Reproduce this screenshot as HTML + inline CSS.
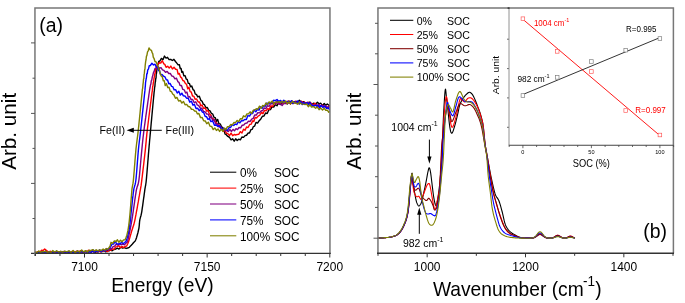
<!DOCTYPE html><html><head><meta charset="utf-8"><style>html,body{margin:0;padding:0;background:#fff;overflow:hidden;}svg{display:block;will-change:transform;}text{font-family:"Liberation Sans",sans-serif;}</style></head><body>
<svg width="685" height="303" viewBox="0 0 685 303">
<rect width="685" height="303" fill="#fff"/>
<defs><clipPath id="cl"><rect x="35" y="8" width="295" height="245.5"/></clipPath><clipPath id="cr"><rect x="378" y="8" width="295" height="245.3"/></clipPath></defs>
<g clip-path="url(#cl)" fill="none" stroke-width="1.4" stroke-linejoin="round">
<path d="M35.00,252.40 L36.96,253.32 L38.94,251.85 L40.45,253.58 L42.07,252.25 L43.78,253.57 L45.55,251.11 L47.34,252.79 L49.12,251.81 L50.89,252.30 L52.73,252.32 L54.65,252.98 L56.63,251.18 L58.66,252.78 L60.72,252.50 L62.80,252.41 L64.88,251.49 L66.95,253.01 L68.99,251.71 L71.01,252.83 L73.10,251.70 L75.23,252.91 L77.40,251.29 L79.56,251.87 L81.68,251.55 L83.74,252.06 L85.70,251.15 L87.54,252.59 L89.23,251.19 L91.41,252.02 L93.20,250.06 L94.72,252.58 L96.48,251.50 L98.16,251.86 L100.00,250.73 L101.99,251.66 L103.96,250.71 L105.94,251.95 L107.44,249.81 L108.96,251.00 L110.53,249.89 L112.18,250.80 L113.90,249.48 L115.64,249.00 L117.34,248.19 L118.96,249.06 L120.90,247.21 L122.58,248.12 L124.43,247.66 L126.08,248.43 L127.60,248.01 L129.32,247.33 L130.84,245.64 L132.19,244.31 L133.68,242.56 L135.09,241.12 L135.95,239.19 L136.60,237.41 L137.26,234.98 L137.90,232.76 L138.46,230.25 L138.89,228.29 L139.22,225.85 L139.40,223.93 L139.57,221.51 L139.87,219.71 L140.44,217.32 L141.01,215.44 L141.46,213.35 L141.83,211.36 L142.27,208.20 L142.59,206.05 L142.93,203.55 L143.27,201.22 L143.62,198.51 L143.95,196.29 L144.26,193.81 L144.55,191.83 L144.91,189.15 L145.26,187.23 L145.70,184.77 L146.04,182.49 L146.30,179.97 L146.51,177.88 L146.75,175.05 L147.00,172.23 L147.26,168.88 L147.53,165.72 L147.80,162.13 L148.07,159.09 L148.33,155.60 L148.57,152.76 L148.80,149.86 L149.00,147.80 L149.18,145.48 L149.42,143.05 L149.64,140.29 L149.88,137.95 L150.15,134.82 L150.36,132.61 L150.60,129.94 L150.88,126.98 L151.20,123.25 L151.56,119.60 L151.74,117.49 L151.93,115.53 L152.12,113.36 L152.31,111.44 L152.50,109.22 L152.69,107.36 L152.87,105.24 L153.23,101.47 L153.57,97.92 L153.87,94.85 L154.12,92.15 L154.35,90.64 L154.64,87.29 L154.89,86.36 L155.18,82.65 L155.47,81.48 L155.78,78.24 L156.02,78.10 L156.26,74.03 L156.50,73.34 L156.82,70.13 L157.14,68.47 L157.55,65.44 L158.06,64.20 L158.75,61.43 L159.82,61.02 L161.42,58.39 L162.98,59.67 L164.48,56.08 L166.01,58.06 L167.48,57.33 L169.10,59.63 L170.71,59.32 L172.33,60.46 L173.94,59.35 L175.44,61.48 L176.60,62.92 L178.11,64.84 L179.37,64.61 L180.22,68.66 L181.08,68.39 L181.84,72.40 L182.70,71.55 L183.87,75.87 L185.13,75.64 L186.19,79.04 L187.22,79.43 L188.26,83.37 L189.42,83.42 L190.60,86.80 L191.75,85.99 L192.99,89.58 L194.15,90.34 L195.27,94.11 L196.42,94.33 L197.77,96.95 L199.32,96.23 L200.90,100.40 L202.09,101.32 L203.30,104.14 L204.50,104.71 L205.90,107.72 L207.31,107.47 L208.70,110.33 L210.07,110.92 L211.43,113.47 L212.80,114.18 L214.03,117.32 L215.29,117.73 L216.45,121.31 L217.66,119.42 L218.90,123.68 L220.26,123.92 L221.57,126.82 L222.84,127.65 L223.85,130.02 L224.36,130.45 L225.00,134.01 L226.25,134.73 L227.85,136.45 L229.45,137.25 L231.05,139.84 L232.70,138.84 L234.20,141.21 L235.70,138.82 L237.20,140.55 L238.71,139.22 L240.34,139.85 L241.93,137.02 L243.54,137.40 L245.05,135.60 L246.55,135.24 L248.06,133.06 L249.50,133.09 L250.89,129.68 L252.24,129.32 L253.40,126.54 L254.66,126.10 L256.04,122.38 L257.57,123.05 L259.20,120.66 L260.83,118.92 L262.43,116.24 L264.01,115.94 L265.61,113.01 L267.21,113.56 L268.86,109.82 L270.47,109.63 L272.15,106.69 L273.73,106.98 L275.40,104.60 L277.04,105.78 L278.65,102.56 L280.38,104.48 L282.26,101.93 L283.87,102.80 L285.56,101.95 L287.28,104.04 L288.95,100.88 L290.50,103.65 L292.41,101.22 L294.25,102.48 L296.15,101.29 L297.69,102.50 L299.39,100.28 L301.32,102.33 L303.52,101.65 L305.08,102.85 L306.69,102.82 L308.31,103.86 L309.92,102.04 L311.48,104.37 L313.68,103.23 L315.62,104.29 L317.40,102.24 L319.07,103.81 L320.62,103.13 L322.52,105.40 L324.23,103.56 L325.73,105.16 L327.32,103.98 L328.82,105.32 L330.00,105.50" stroke="#000000"/>
<path d="M35.00,252.40 L36.74,252.38 L38.49,251.48 L40.00,252.10 L41.62,250.18 L43.15,250.61 L44.68,249.07 L46.27,250.30 L47.84,251.52 L48.78,253.55 L50.58,251.27 L52.82,252.92 L54.64,251.84 L56.67,253.05 L58.84,251.78 L61.11,252.70 L63.42,251.41 L65.70,253.59 L67.92,251.43 L70.00,253.27 L72.05,251.44 L74.16,252.65 L76.31,251.29 L78.48,252.10 L80.62,250.65 L82.72,252.10 L84.73,251.42 L86.64,252.17 L88.41,250.32 L90.00,251.89 L92.06,250.63 L93.80,252.13 L95.75,251.04 L97.46,252.05 L99.13,250.88 L100.90,252.08 L102.67,250.47 L104.38,251.00 L105.96,250.54 L107.69,251.68 L109.26,249.77 L110.85,250.27 L112.46,248.91 L113.98,249.50 L115.54,246.88 L117.22,246.60 L118.87,245.62 L120.41,247.73 L122.00,246.41 L123.61,247.56 L125.23,246.33 L126.68,245.97 L127.73,243.75 L128.44,242.02 L129.23,239.49 L129.84,237.53 L130.46,235.28 L131.06,233.28 L131.62,231.18 L132.29,229.18 L132.99,226.97 L133.68,225.09 L134.32,222.59 L134.90,220.09 L135.36,217.57 L135.90,214.92 L136.47,211.72 L137.08,208.52 L137.70,204.88 L138.31,201.64 L138.89,197.98 L139.43,195.18 L139.91,192.18 L140.30,190.04 L140.72,187.60 L141.08,185.70 L141.38,183.39 L141.68,181.07 L141.93,178.82 L142.23,176.61 L142.57,173.67 L142.94,170.68 L143.32,167.21 L143.72,163.99 L144.11,160.38 L144.48,157.43 L144.84,154.09 L145.16,151.41 L145.43,148.72 L145.66,146.61 L145.93,143.59 L146.16,141.33 L146.38,138.61 L146.65,136.06 L146.87,133.63 L147.14,131.45 L147.48,128.41 L147.88,125.25 L148.34,121.34 L148.59,119.52 L148.85,117.27 L149.11,115.33 L149.38,113.10 L149.64,111.17 L149.91,108.86 L150.17,107.05 L150.43,104.82 L150.92,101.19 L151.36,97.50 L151.74,94.79 L152.04,92.27 L152.36,90.56 L152.64,86.52 L152.92,86.13 L153.28,82.96 L153.60,81.74 L153.94,78.97 L154.30,76.93 L154.73,73.90 L155.14,73.37 L155.62,69.24 L156.18,68.57 L156.82,65.81 L157.81,64.54 L159.20,62.78 L160.74,63.08 L162.28,60.71 L163.84,63.90 L164.80,64.38 L166.08,67.32 L167.67,66.22 L169.24,68.08 L170.80,66.08 L172.42,69.00 L174.02,67.29 L175.58,69.25 L177.04,69.42 L178.13,73.98 L179.33,73.50 L180.49,76.89 L181.65,77.85 L182.84,80.49 L184.00,80.90 L185.31,83.32 L186.58,84.43 L187.73,88.76 L188.96,87.24 L190.09,91.66 L191.24,92.01 L192.60,96.16 L193.86,96.16 L195.10,99.29 L196.55,98.93 L198.17,102.04 L199.54,101.95 L200.89,105.91 L202.10,105.09 L203.50,108.26 L205.10,107.98 L206.70,111.17 L208.07,110.66 L209.43,114.00 L210.80,115.14 L212.23,118.49 L213.67,118.92 L214.97,121.34 L216.36,122.67 L217.65,125.94 L218.94,124.64 L220.28,127.60 L221.79,128.85 L223.35,131.40 L225.00,130.17 L226.44,133.27 L227.85,133.63 L229.45,135.57 L231.05,133.14 L232.70,135.73 L234.20,134.49 L235.70,134.99 L237.20,134.46 L238.71,134.41 L240.34,131.67 L241.93,132.94 L243.54,129.16 L245.05,130.26 L246.55,127.01 L248.06,127.54 L249.64,124.49 L251.20,124.17 L252.61,120.89 L253.81,121.58 L255.11,117.42 L256.53,117.94 L258.10,116.14 L259.75,115.24 L261.37,112.57 L262.96,113.66 L264.55,110.42 L266.13,110.71 L267.72,108.57 L269.31,109.36 L270.90,105.75 L272.47,106.70 L274.18,103.18 L275.77,103.79 L277.33,101.23 L278.98,104.00 L280.77,101.06 L282.44,103.26 L284.44,101.37 L286.22,103.44 L288.26,101.21 L290.50,103.96 L292.06,101.27 L293.66,103.42 L295.28,101.22 L296.89,103.49 L298.47,102.17 L300.00,103.17 L301.52,101.23 L303.08,102.62 L304.66,102.12 L306.24,103.86 L307.81,102.33 L309.36,104.08 L310.87,102.90 L313.02,104.95 L315.00,103.17 L316.82,105.47 L318.52,105.04 L320.12,106.93 L322.07,104.98 L323.82,106.32 L325.37,105.85 L327.02,107.90 L328.60,106.33 L330.00,107.00" stroke="#ff0000"/>
<path d="M35.00,252.40 L36.96,252.78 L38.94,252.01 L40.45,252.81 L42.07,252.55 L43.78,252.58 L45.55,251.30 L47.34,253.33 L49.12,251.39 L50.89,253.42 L52.73,251.94 L54.65,252.81 L56.63,251.57 L58.66,252.39 L60.72,251.34 L62.80,253.42 L64.88,251.79 L66.95,252.99 L68.99,252.00 L71.01,252.85 L73.10,251.67 L75.23,253.09 L77.40,251.14 L79.56,252.48 L81.68,251.50 L83.74,252.83 L85.70,251.30 L87.54,253.03 L89.23,250.60 L90.73,252.89 L92.67,250.54 L94.32,252.02 L96.19,250.45 L97.88,251.27 L99.56,250.47 L101.35,251.26 L103.11,249.78 L104.78,250.87 L106.33,248.61 L108.00,249.87 L109.66,247.91 L111.20,249.29 L112.92,246.78 L114.63,246.14 L116.19,244.23 L117.86,245.01 L119.42,243.54 L121.01,244.76 L122.74,243.99 L124.38,244.82 L125.94,243.18 L127.17,242.25 L127.82,240.15 L128.43,237.92 L128.86,235.72 L129.26,233.75 L129.78,231.03 L130.25,228.97 L130.69,226.71 L131.08,224.69 L131.46,222.43 L131.81,220.61 L132.21,218.00 L132.53,216.15 L132.86,213.65 L133.19,211.56 L133.52,209.16 L133.91,206.56 L134.21,204.34 L134.52,202.31 L134.84,199.93 L135.16,197.83 L135.49,195.51 L135.81,193.55 L136.26,190.64 L136.67,188.72 L137.30,186.41 L138.02,184.62 L138.51,182.35 L138.90,180.10 L139.18,177.72 L139.47,175.25 L139.76,172.07 L140.06,169.01 L140.37,165.54 L140.67,162.26 L140.97,158.79 L141.26,155.79 L141.54,152.63 L141.80,150.10 L142.04,147.60 L142.24,145.69 L142.51,142.74 L142.76,140.47 L143.04,137.74 L143.39,135.02 L143.67,132.45 L144.00,130.15 L144.41,126.79 L144.89,123.35 L145.43,119.31 L145.71,117.43 L146.00,115.10 L146.29,113.33 L146.59,110.97 L146.88,109.12 L147.17,106.93 L147.46,104.92 L148.00,100.98 L148.50,97.76 L148.92,94.61 L149.26,92.51 L149.64,89.57 L149.99,88.01 L150.43,85.31 L150.87,84.04 L151.29,80.91 L151.81,79.90 L152.32,76.92 L152.80,75.34 L153.36,72.88 L154.00,71.66 L155.11,68.31 L156.38,67.78 L157.88,66.43 L159.45,68.23 L161.02,67.68 L162.45,69.78 L163.93,70.44 L165.55,72.28 L167.16,71.36 L168.72,73.49 L170.31,73.33 L171.80,76.00 L173.38,76.45 L174.93,78.88 L176.47,78.16 L177.80,81.56 L178.95,82.30 L180.10,85.64 L181.46,85.53 L182.81,89.40 L184.23,89.82 L185.60,93.02 L186.93,92.10 L188.27,97.08 L189.57,96.53 L191.03,99.39 L192.61,99.49 L194.25,102.75 L195.81,101.78 L197.21,104.93 L198.72,105.56 L200.29,108.20 L201.90,108.21 L203.49,111.32 L205.10,111.93 L206.70,113.95 L208.31,114.16 L209.90,118.02 L211.31,116.30 L212.70,120.73 L214.13,119.50 L215.71,124.11 L217.34,123.62 L218.93,126.91 L220.39,126.23 L222.08,129.01 L223.61,128.19 L225.18,130.93 L226.72,130.35 L228.29,131.58 L229.88,129.51 L231.49,131.45 L233.00,129.38 L234.50,130.80 L236.00,128.62 L237.50,129.55 L239.01,127.48 L240.64,127.90 L242.23,125.19 L243.74,124.96 L245.35,123.37 L246.97,122.96 L248.48,121.10 L250.07,121.51 L251.70,119.16 L253.20,118.48 L254.66,115.04 L256.28,115.05 L257.83,112.62 L259.47,112.84 L261.10,110.97 L262.69,110.51 L264.28,107.98 L265.87,108.58 L267.46,105.60 L269.05,106.29 L270.64,103.47 L272.24,103.87 L273.95,102.55 L275.61,103.95 L277.18,100.75 L278.62,103.97 L280.33,103.79 L282.16,105.47 L283.77,103.35 L285.49,103.64 L287.25,101.28 L288.94,103.23 L290.50,101.77 L292.41,103.45 L294.25,101.93 L296.15,102.98 L297.69,101.97 L299.39,103.77 L301.32,101.37 L303.52,103.67 L305.08,103.33 L306.69,104.46 L308.31,102.25 L309.92,105.56 L311.48,104.02 L313.68,106.13 L315.62,104.86 L317.40,106.99 L319.07,104.32 L320.62,106.47 L322.52,105.15 L324.23,106.94 L325.73,105.77 L327.32,107.89 L328.82,106.16 L330.00,108.00" stroke="#800080"/>
<path d="M35.00,252.40 L36.96,253.80 L38.94,251.92 L40.45,253.53 L42.07,251.49 L43.78,253.21 L45.55,251.47 L47.34,252.87 L49.12,251.96 L50.89,253.48 L52.73,251.66 L54.65,252.16 L56.63,251.65 L58.66,253.13 L60.72,251.74 L62.80,252.28 L64.88,251.57 L66.95,253.25 L68.99,251.20 L71.01,253.40 L73.10,251.61 L75.23,253.17 L77.40,251.93 L79.56,252.76 L81.68,251.20 L83.74,252.42 L85.70,251.49 L87.54,252.55 L89.23,251.46 L90.73,252.54 L92.67,251.15 L94.32,252.24 L96.19,250.87 L97.88,251.76 L99.56,249.86 L101.36,251.71 L103.15,249.72 L104.85,250.98 L106.40,249.35 L108.00,249.69 L109.51,247.96 L110.68,246.76 L112.16,244.04 L113.63,244.13 L115.17,241.28 L116.70,243.92 L118.21,243.96 L119.96,244.04 L121.59,242.26 L123.19,243.56 L124.71,242.48 L126.05,241.17 L126.84,238.89 L127.49,236.69 L128.11,234.15 L128.66,231.71 L129.11,229.36 L129.48,227.44 L129.78,225.13 L130.03,223.24 L130.28,221.00 L130.51,219.14 L130.74,216.81 L130.93,214.70 L131.12,212.54 L131.40,210.16 L131.68,207.34 L132.00,204.47 L132.23,202.12 L132.47,200.02 L132.72,197.59 L132.98,195.66 L133.23,193.40 L133.59,190.91 L133.92,188.58 L134.47,186.58 L135.11,184.50 L135.55,182.47 L135.90,179.99 L136.14,177.90 L136.38,175.03 L136.63,172.20 L136.89,168.92 L137.14,165.76 L137.40,162.10 L137.66,158.97 L137.91,155.62 L138.16,152.71 L138.40,149.86 L138.63,147.66 L138.85,145.55 L139.16,143.00 L139.46,140.36 L139.78,137.91 L140.14,134.78 L140.41,132.70 L140.70,129.86 L141.04,126.98 L141.42,123.29 L141.84,119.61 L142.05,117.44 L142.27,115.51 L142.50,113.19 L142.72,111.31 L142.94,109.15 L143.16,107.30 L143.37,105.13 L143.78,101.39 L144.15,97.79 L144.46,94.80 L144.72,92.31 L144.92,90.65 L145.15,87.68 L145.34,86.01 L145.54,82.55 L145.80,81.04 L146.09,79.07 L146.41,78.02 L146.82,73.69 L147.23,73.61 L147.74,69.96 L148.42,69.08 L149.26,65.76 L150.32,65.51 L151.94,63.25 L153.50,64.99 L155.06,64.23 L156.18,67.00 L157.57,67.69 L158.69,70.72 L159.51,70.50 L160.54,74.58 L161.96,74.42 L163.44,76.03 L164.93,76.83 L166.26,79.82 L167.55,80.03 L168.81,83.72 L170.18,83.48 L171.54,86.36 L172.81,86.67 L174.15,89.89 L175.61,89.61 L177.22,93.06 L178.80,91.19 L180.32,95.14 L181.83,93.13 L183.37,95.79 L184.92,96.05 L186.57,98.19 L188.20,98.20 L189.82,102.18 L191.44,101.14 L193.00,105.17 L194.46,104.39 L196.06,108.60 L197.58,108.20 L199.21,110.64 L200.74,109.33 L202.30,111.99 L203.69,112.62 L205.10,116.28 L206.48,116.72 L207.98,119.32 L209.43,118.59 L210.94,121.57 L212.67,121.00 L214.46,125.22 L216.14,125.06 L217.76,126.47 L219.33,125.72 L221.03,128.41 L222.61,128.55 L224.25,129.17 L225.84,129.29 L227.43,130.49 L229.02,127.67 L230.61,127.46 L232.24,124.65 L233.75,125.51 L235.25,124.07 L236.75,124.58 L238.26,121.97 L239.90,122.83 L241.51,120.58 L243.07,120.83 L244.66,119.40 L246.36,119.44 L247.89,115.61 L249.54,116.15 L251.12,113.30 L252.67,113.48 L254.23,109.86 L255.80,111.86 L257.38,109.30 L258.98,110.23 L260.57,106.80 L262.16,108.35 L263.75,105.66 L265.34,106.25 L266.94,103.08 L268.59,103.77 L270.21,102.75 L271.92,102.84 L273.55,100.28 L275.28,100.65 L277.04,99.49 L278.70,101.44 L280.57,100.40 L282.13,102.51 L283.81,100.29 L285.62,102.05 L287.64,101.91 L289.84,102.65 L291.37,100.65 L292.94,103.54 L294.53,101.83 L296.12,103.23 L297.70,100.90 L299.24,103.97 L300.76,101.71 L302.30,104.61 L303.87,102.44 L305.45,104.08 L307.03,102.55 L308.59,104.43 L310.12,102.84 L312.32,106.14 L314.36,105.45 L316.23,105.56 L317.97,105.29 L319.60,108.14 L321.12,105.38 L322.97,107.58 L324.62,105.92 L326.40,108.44 L328.12,107.77 L329.73,109.88 L330.00,109.00" stroke="#0000ff"/>
<path d="M35.00,252.00 L36.96,252.52 L38.94,250.97 L40.45,252.59 L42.07,251.50 L43.78,251.88 L45.55,251.05 L47.34,252.51 L49.12,251.63 L50.89,252.67 L52.73,250.59 L54.65,252.08 L56.63,250.74 L58.66,252.08 L60.72,251.41 L62.80,252.25 L64.88,251.10 L66.95,251.89 L68.99,250.76 L71.01,252.45 L73.10,250.42 L75.23,252.71 L77.40,250.91 L79.56,252.18 L81.68,250.02 L83.74,252.11 L85.70,250.63 L87.54,252.15 L89.23,250.29 L90.73,250.71 L92.67,249.72 L94.32,250.93 L96.19,249.83 L97.88,250.82 L99.56,249.84 L101.36,250.64 L103.15,249.04 L104.85,250.18 L106.40,248.60 L108.00,249.25 L109.38,247.02 L110.08,246.24 L111.00,242.33 L112.68,243.25 L114.34,240.97 L115.94,241.73 L117.44,239.77 L118.99,242.27 L120.50,240.13 L122.06,241.80 L123.57,239.88 L125.09,239.78 L126.13,237.16 L126.86,235.14 L127.39,232.88 L127.90,230.70 L128.36,227.92 L128.67,225.92 L128.96,223.66 L129.24,221.43 L129.52,218.56 L129.80,215.89 L130.00,213.60 L130.20,211.39 L130.41,208.74 L130.62,206.24 L130.83,203.32 L131.03,200.69 L131.24,197.88 L131.44,195.48 L131.63,192.94 L131.81,190.92 L132.07,188.39 L132.42,186.27 L132.89,183.89 L133.21,181.87 L133.50,178.87 L133.72,176.55 L133.96,173.66 L134.21,170.69 L134.46,167.31 L134.73,164.06 L134.99,160.53 L135.26,157.34 L135.52,154.10 L135.78,151.30 L136.02,148.69 L136.25,146.71 L136.59,143.77 L136.91,141.34 L137.25,138.61 L137.61,136.01 L137.87,133.72 L138.15,131.42 L138.46,128.44 L138.80,125.35 L139.17,121.52 L139.56,117.77 L139.76,115.60 L139.97,113.72 L140.17,111.58 L140.37,109.69 L140.57,107.38 L140.77,105.60 L141.16,101.60 L141.52,98.17 L141.85,94.86 L142.14,92.30 L142.41,88.99 L142.65,88.48 L142.97,84.63 L143.27,82.25 L143.55,78.89 L143.82,78.62 L144.10,74.45 L144.38,73.16 L144.66,69.60 L144.93,69.20 L145.18,65.47 L145.43,63.38 L145.73,61.13 L146.05,59.77 L146.42,56.36 L146.90,55.42 L147.52,51.84 L148.23,50.78 L149.03,47.99 L150.26,49.83 L151.47,50.44 L152.22,52.95 L152.74,53.65 L153.26,57.08 L153.99,58.29 L154.97,61.48 L156.13,61.95 L157.21,64.64 L157.97,66.09 L158.67,69.01 L159.30,69.32 L159.98,72.88 L160.59,74.37 L161.25,76.09 L162.18,76.48 L163.31,80.80 L164.29,80.82 L165.21,85.52 L166.39,83.56 L167.72,87.59 L169.03,87.14 L170.31,91.40 L171.43,91.44 L172.62,93.96 L173.91,94.86 L175.42,98.32 L176.92,97.41 L178.62,101.07 L180.30,100.35 L181.89,103.11 L183.49,101.53 L185.07,104.70 L186.66,104.35 L188.27,106.45 L189.83,106.78 L191.50,109.25 L193.04,109.35 L194.63,111.08 L196.14,111.31 L197.42,113.94 L198.87,113.48 L200.50,117.62 L202.09,117.40 L203.67,120.79 L205.24,120.94 L206.76,123.74 L208.39,122.22 L210.03,126.18 L211.63,126.44 L213.22,129.56 L214.81,127.97 L216.40,130.44 L218.01,128.95 L219.59,131.43 L221.25,129.11 L222.88,131.39 L224.41,128.12 L225.96,129.54 L227.51,126.66 L229.03,126.66 L230.79,124.45 L232.39,124.97 L234.00,122.49 L235.56,122.71 L237.12,120.45 L238.74,121.69 L240.47,118.62 L241.99,119.16 L243.53,115.85 L245.30,116.82 L246.94,113.89 L248.52,113.90 L250.08,111.85 L251.64,113.43 L253.20,110.44 L254.76,109.79 L256.33,108.79 L257.91,109.13 L259.51,106.19 L261.10,108.35 L262.73,105.46 L264.37,106.05 L265.92,102.96 L267.49,104.61 L269.06,101.89 L270.60,102.81 L272.27,100.98 L273.85,104.22 L275.41,101.96 L277.05,102.39 L278.86,101.56 L280.44,102.59 L282.36,101.30 L283.96,102.66 L285.62,101.02 L287.31,103.38 L288.95,102.06 L290.50,103.89 L292.41,101.40 L294.25,103.00 L296.15,103.06 L297.69,104.16 L299.39,102.33 L301.32,103.88 L303.52,104.09 L305.08,104.56 L306.69,103.92 L308.31,106.72 L309.92,104.47 L311.48,107.07 L313.68,106.65 L315.62,108.22 L317.40,107.03 L319.07,109.75 L320.62,108.08 L322.52,110.12 L324.23,108.31 L325.73,110.23 L327.32,110.13 L328.82,112.22 L330.00,111.40" stroke="#808000"/>
</g>
<g clip-path="url(#cr)" fill="none" stroke-width="1.1" stroke-linejoin="round">
<path d="M378.00,238.20 L378.80,238.14 L379.92,238.05 L381.24,237.95 L382.65,237.84 L384.04,237.72 L385.30,237.60 L386.44,237.51 L387.55,237.44 L388.64,237.36 L389.73,237.25 L390.81,237.07 L391.90,236.80 L393.02,236.46 L394.15,236.09 L395.29,235.66 L396.40,235.12 L397.48,234.44 L398.50,233.60 L399.46,232.59 L400.38,231.45 L401.26,230.17 L402.11,228.75 L402.92,227.20 L403.70,225.50 L404.45,223.76 L405.17,222.00 L405.86,220.09 L406.51,217.94 L407.13,215.41 L407.70,212.40 L408.23,208.61 L408.71,204.07 L409.15,199.16 L409.56,194.26 L409.94,189.74 L410.30,186.00 L410.63,182.87 L410.93,180.02 L411.19,177.56 L411.44,175.60 L411.67,174.24 L411.90,173.60 L412.11,173.90 L412.28,175.10 L412.44,176.90 L412.61,179.01 L412.79,181.15 L413.00,183.00 L413.25,184.65 L413.53,186.36 L413.82,188.08 L414.12,189.79 L414.42,191.44 L414.70,193.00 L414.97,194.51 L415.24,195.99 L415.50,197.42 L415.76,198.77 L416.03,200.00 L416.30,201.10 L416.58,202.06 L416.87,202.89 L417.17,203.62 L417.46,204.24 L417.74,204.77 L418.00,205.20 L418.23,205.55 L418.44,205.80 L418.63,205.95 L418.83,206.00 L419.05,205.95 L419.30,205.80 L419.59,205.55 L419.91,205.22 L420.26,204.78 L420.61,204.23 L420.96,203.54 L421.30,202.70 L421.63,201.68 L421.97,200.47 L422.30,199.13 L422.63,197.71 L422.97,196.25 L423.30,194.80 L423.64,193.31 L423.99,191.73 L424.34,190.12 L424.69,188.52 L425.01,187.00 L425.30,185.60 L425.56,184.35 L425.79,183.22 L425.99,182.16 L426.19,181.13 L426.39,180.09 L426.60,179.00 L426.82,177.82 L427.03,176.59 L427.25,175.35 L427.47,174.14 L427.68,173.01 L427.90,172.00 L428.12,171.04 L428.33,170.08 L428.55,169.20 L428.77,168.47 L428.98,167.98 L429.20,167.80 L429.42,167.94 L429.63,168.33 L429.84,168.96 L430.06,169.79 L430.28,170.82 L430.50,172.00 L430.73,173.43 L430.96,175.15 L431.20,177.05 L431.44,179.04 L431.67,181.02 L431.90,182.90 L432.12,184.72 L432.34,186.56 L432.56,188.39 L432.77,190.18 L432.98,191.89 L433.20,193.50 L433.42,195.02 L433.63,196.48 L433.85,197.86 L434.07,199.16 L434.28,200.34 L434.50,201.40 L434.72,202.37 L434.93,203.27 L435.15,204.06 L435.37,204.71 L435.58,205.17 L435.80,205.40 L436.02,205.40 L436.24,205.18 L436.46,204.78 L436.67,204.22 L436.89,203.52 L437.10,202.70 L437.30,201.73 L437.50,200.59 L437.70,199.31 L437.90,197.92 L438.10,196.47 L438.30,195.00 L438.51,193.50 L438.73,191.95 L438.95,190.33 L439.17,188.64 L439.39,186.87 L439.60,185.00 L439.81,183.00 L440.01,180.85 L440.22,178.62 L440.42,176.37 L440.61,174.14 L440.80,172.00 L440.98,170.04 L441.16,168.24 L441.33,166.47 L441.50,164.59 L441.65,162.48 L441.80,160.00 L441.93,157.18 L442.03,154.13 L442.13,150.84 L442.23,147.31 L442.35,143.54 L442.50,139.50 L442.68,135.00 L442.88,130.00 L443.10,124.75 L443.33,119.50 L443.56,114.50 L443.80,110.00 L444.04,105.73 L444.30,101.43 L444.56,97.38 L444.81,93.85 L445.07,91.13 L445.30,89.50 L445.52,89.20 L445.71,90.06 L445.91,91.73 L446.10,93.85 L446.29,96.06 L446.50,98.00 L446.71,99.71 L446.93,101.47 L447.15,103.32 L447.38,105.30 L447.63,107.45 L447.90,109.80 L448.20,112.56 L448.52,115.74 L448.86,119.09 L449.21,122.35 L449.56,125.27 L449.90,127.60 L450.22,129.39 L450.53,130.86 L450.84,131.99 L451.17,132.76 L451.51,133.17 L451.90,133.20 L452.33,132.75 L452.80,131.80 L453.29,130.49 L453.79,128.94 L454.30,127.27 L454.80,125.60 L455.31,123.83 L455.83,121.84 L456.36,119.73 L456.87,117.60 L457.36,115.56 L457.80,113.70 L458.18,112.01 L458.50,110.40 L458.80,108.88 L459.10,107.44 L459.42,106.08 L459.80,104.80 L460.24,103.61 L460.73,102.51 L461.24,101.49 L461.76,100.54 L462.29,99.64 L462.80,98.80 L463.29,98.01 L463.78,97.30 L464.27,96.64 L464.76,96.03 L465.27,95.45 L465.80,94.90 L466.36,94.34 L466.96,93.78 L467.58,93.26 L468.18,92.81 L468.76,92.48 L469.30,92.30 L469.79,92.30 L470.26,92.46 L470.69,92.73 L471.11,93.09 L471.51,93.49 L471.90,93.90 L472.27,94.34 L472.61,94.83 L472.94,95.36 L473.26,95.94 L473.57,96.56 L473.90,97.20 L474.23,97.88 L474.57,98.61 L474.90,99.38 L475.23,100.17 L475.57,100.98 L475.90,101.80 L476.23,102.64 L476.57,103.51 L476.90,104.41 L477.23,105.31 L477.57,106.21 L477.90,107.10 L478.23,107.97 L478.57,108.82 L478.91,109.67 L479.24,110.54 L479.57,111.44 L479.90,112.40 L480.23,113.42 L480.56,114.49 L480.89,115.59 L481.21,116.72 L481.51,117.86 L481.80,119.00 L482.06,120.02 L482.29,120.90 L482.50,121.80 L482.71,122.85 L482.94,124.20 L483.20,126.00 L483.49,128.41 L483.79,131.36 L484.11,134.60 L484.44,137.91 L484.77,141.06 L485.10,143.80 L485.41,146.03 L485.70,147.90 L485.99,149.60 L486.31,151.33 L486.67,153.26 L487.10,155.60 L487.62,158.47 L488.21,161.74 L488.85,165.23 L489.50,168.73 L490.13,172.05 L490.70,175.00 L491.22,177.59 L491.71,179.98 L492.19,182.19 L492.64,184.24 L493.08,186.14 L493.50,187.90 L493.89,189.49 L494.24,190.88 L494.58,192.12 L494.91,193.26 L495.28,194.33 L495.70,195.40 L496.18,196.36 L496.69,197.16 L497.24,197.90 L497.80,198.69 L498.36,199.62 L498.90,200.80 L499.43,202.25 L499.97,203.89 L500.50,205.68 L501.03,207.57 L501.57,209.53 L502.10,211.50 L502.62,213.59 L503.13,215.86 L503.63,218.19 L504.15,220.47 L504.70,222.58 L505.30,224.40 L505.93,225.92 L506.57,227.21 L507.25,228.34 L507.97,229.34 L508.75,230.28 L509.60,231.20 L510.60,232.10 L511.74,232.93 L512.94,233.70 L514.11,234.39 L515.16,234.99 L516.00,235.50 L516.60,235.89 L517.03,236.15 L517.34,236.33 L517.57,236.46 L517.78,236.56 L518.00,236.68 L518.22,236.79 L518.41,236.86 L518.56,236.92 L518.70,236.96 L518.84,237.01 L519.00,237.05 L519.17,237.11 L519.33,237.16 L519.50,237.21 L519.67,237.25 L519.83,237.30 L520.00,237.34 L520.17,237.38 L520.33,237.42 L520.50,237.45 L520.67,237.49 L520.83,237.52 L521.00,237.55 L521.17,237.58 L521.33,237.61 L521.50,237.64 L521.67,237.67 L521.83,237.69 L522.00,237.71 L522.17,237.74 L522.33,237.76 L522.50,237.78 L522.67,237.80 L522.83,237.82 L523.00,237.83 L523.17,237.85 L523.33,237.87 L523.50,237.88 L523.67,237.90 L523.83,237.91 L524.00,237.93 L524.17,237.94 L524.33,237.95 L524.50,237.96 L524.67,237.97 L524.83,237.98 L525.00,237.99 L525.17,238.00 L525.33,238.01 L525.50,238.02 L525.67,238.03 L525.83,238.04 L526.00,238.04 L526.17,238.05 L526.33,238.06 L526.50,238.07 L526.67,238.07 L526.83,238.08 L527.00,238.08 L527.17,238.09 L527.33,238.09 L527.50,238.10 L527.67,238.10 L527.83,238.11 L528.00,238.11 L528.17,238.11 L528.33,238.12 L528.50,238.12 L528.67,238.12 L528.83,238.13 L529.00,238.13 L529.17,238.13 L529.33,238.13 L529.50,238.14 L529.67,238.14 L529.83,238.14 L530.00,238.14 L530.17,238.14 L530.33,238.13 L530.50,238.13 L530.67,238.13 L530.83,238.13 L531.00,238.12 L531.17,238.12 L531.33,238.11 L531.50,238.10 L531.67,238.09 L531.83,238.08 L532.00,238.07 L532.17,238.05 L532.33,238.03 L532.50,238.01 L532.67,237.99 L532.83,237.97 L533.00,237.94 L533.17,237.90 L533.33,237.87 L533.50,237.83 L533.67,237.78 L533.83,237.74 L534.00,237.68 L534.17,237.63 L534.33,237.56 L534.50,237.50 L534.67,237.42 L534.83,237.35 L535.00,237.27 L535.17,237.18 L535.33,237.08 L535.50,236.99 L535.67,236.88 L535.83,236.78 L536.00,236.67 L536.17,236.56 L536.33,236.44 L536.50,236.32 L536.67,236.19 L536.83,236.07 L537.00,235.95 L537.17,235.83 L537.33,235.70 L537.50,235.58 L537.67,235.46 L537.83,235.34 L538.00,235.23 L538.17,235.13 L538.33,235.03 L538.50,234.93 L538.67,234.84 L538.83,234.76 L539.00,234.70 L539.17,234.64 L539.33,234.59 L539.50,234.55 L539.67,234.52 L539.83,234.50 L540.00,234.50 L540.17,234.50 L540.33,234.52 L540.50,234.55 L540.67,234.59 L540.83,234.64 L541.00,234.70 L541.17,234.77 L541.33,234.85 L541.50,234.93 L541.67,235.03 L541.83,235.13 L542.00,235.24 L542.17,235.34 L542.33,235.46 L542.50,235.58 L542.67,235.71 L542.83,235.83 L543.00,235.95 L543.17,236.08 L543.33,236.20 L543.50,236.32 L543.67,236.45 L543.83,236.56 L544.00,236.68 L544.17,236.79 L544.33,236.89 L544.50,237.00 L544.67,237.09 L544.83,237.19 L545.00,237.28 L545.17,237.36 L545.33,237.44 L545.50,237.51 L545.67,237.58 L545.83,237.64 L546.00,237.70 L546.17,237.75 L546.33,237.80 L546.50,237.85 L546.67,237.89 L546.83,237.92 L547.00,237.96 L547.17,237.99 L547.33,238.01 L547.50,238.04 L547.67,238.06 L547.83,238.08 L548.00,238.09 L548.17,238.11 L548.33,238.12 L548.50,238.13 L548.67,238.14 L548.83,238.14 L549.00,238.15 L549.17,238.16 L549.33,238.16 L549.50,238.16 L549.67,238.16 L549.83,238.16 L550.00,238.16 L550.17,238.15 L550.33,238.15 L550.50,238.14 L550.67,238.14 L550.83,238.13 L551.00,238.12 L551.17,238.10 L551.33,238.09 L551.50,238.07 L551.67,238.05 L551.83,238.03 L552.00,238.00 L552.17,237.97 L552.33,237.94 L552.50,237.90 L552.67,237.86 L552.83,237.82 L553.00,237.77 L553.17,237.72 L553.33,237.66 L553.50,237.60 L553.67,237.54 L553.83,237.47 L554.00,237.40 L554.17,237.33 L554.33,237.25 L554.50,237.17 L554.67,237.08 L554.83,237.00 L555.00,236.92 L555.17,236.83 L555.33,236.75 L555.50,236.66 L555.67,236.58 L555.83,236.50 L556.00,236.42 L556.17,236.35 L556.33,236.29 L556.50,236.22 L556.67,236.17 L556.83,236.12 L557.00,236.08 L557.17,236.05 L557.33,236.02 L557.50,236.01 L557.67,236.00 L557.83,236.00 L558.00,236.01 L558.17,236.03 L558.33,236.07 L558.50,236.10 L558.67,236.15 L558.83,236.20 L559.00,236.26 L559.17,236.32 L559.33,236.39 L559.50,236.47 L559.67,236.55 L559.83,236.63 L560.00,236.71 L560.17,236.79 L560.33,236.88 L560.50,236.97 L560.67,237.05 L560.83,237.14 L561.00,237.22 L561.17,237.29 L561.33,237.37 L561.50,237.44 L561.67,237.51 L561.83,237.58 L562.00,237.64 L562.17,237.70 L562.33,237.75 L562.50,237.80 L562.67,237.84 L562.83,237.88 L563.00,237.92 L563.17,237.95 L563.33,237.98 L563.50,238.01 L563.67,238.03 L563.83,238.05 L564.00,238.06 L564.17,238.07 L564.33,238.08 L564.50,238.08 L564.67,238.09 L564.83,238.08 L565.00,238.08 L565.17,238.07 L565.33,238.06 L565.50,238.04 L565.67,238.02 L565.83,238.00 L566.00,237.97 L566.17,237.94 L566.33,237.90 L566.50,237.86 L566.67,237.81 L566.83,237.76 L567.00,237.71 L567.17,237.65 L567.33,237.59 L567.50,237.52 L567.67,237.46 L567.83,237.39 L568.00,237.32 L568.17,237.25 L568.33,237.17 L568.50,237.10 L568.67,237.02 L568.83,236.95 L569.00,236.89 L569.17,236.84 L569.33,236.78 L569.50,236.73 L569.67,236.69 L569.83,236.65 L570.00,236.63 L570.17,236.61 L570.33,236.60 L570.50,236.61 L570.67,236.62 L570.83,236.63 L571.00,236.66 L571.17,236.69 L571.33,236.74 L571.50,236.79 L571.67,236.85 L571.83,236.91 L572.00,236.97 L572.17,237.04 L572.33,237.11 L572.50,237.18 L572.67,237.26 L572.83,237.33 L573.00,237.40 L573.17,237.47 L573.33,237.54 L573.50,237.60 L573.67,237.67 L573.83,237.73 L574.00,237.78 L574.18,237.83 L574.37,237.88 L574.56,237.92 L574.74,237.96 L574.89,238.00 L575.00,238.02" stroke="#000000"/>
<path d="M378.00,238.20 L378.84,238.14 L380.01,238.05 L381.39,237.95 L382.86,237.84 L384.30,237.72 L385.60,237.60 L386.76,237.51 L387.87,237.44 L388.96,237.36 L390.04,237.25 L391.11,237.07 L392.20,236.80 L393.32,236.46 L394.45,236.09 L395.59,235.66 L396.70,235.12 L397.78,234.44 L398.80,233.60 L399.76,232.59 L400.68,231.45 L401.56,230.17 L402.41,228.75 L403.22,227.20 L404.00,225.50 L404.75,223.76 L405.47,222.00 L406.16,220.09 L406.81,217.94 L407.43,215.41 L408.00,212.40 L408.53,208.61 L409.02,204.07 L409.47,199.16 L409.88,194.26 L410.26,189.74 L410.60,186.00 L410.90,182.88 L411.15,180.06 L411.37,177.63 L411.56,175.67 L411.73,174.30 L411.90,173.60 L412.05,173.79 L412.16,174.85 L412.26,176.48 L412.36,178.41 L412.47,180.34 L412.60,182.00 L412.76,183.50 L412.93,185.08 L413.12,186.67 L413.31,188.19 L413.51,189.56 L413.70,190.70 L413.89,191.57 L414.09,192.23 L414.29,192.74 L414.49,193.17 L414.69,193.56 L414.90,194.00 L415.11,194.48 L415.33,194.94 L415.55,195.38 L415.77,195.78 L415.99,196.13 L416.20,196.40 L416.40,196.59 L416.60,196.72 L416.80,196.79 L417.00,196.81 L417.20,196.81 L417.40,196.80 L417.61,196.73 L417.83,196.58 L418.04,196.41 L418.26,196.25 L418.48,196.17 L418.70,196.20 L418.92,196.38 L419.13,196.67 L419.35,197.04 L419.57,197.43 L419.78,197.79 L420.00,198.10 L420.21,198.41 L420.41,198.76 L420.61,199.10 L420.81,199.35 L421.04,199.44 L421.30,199.30 L421.59,198.89 L421.91,198.25 L422.26,197.46 L422.61,196.57 L422.96,195.66 L423.30,194.80 L423.63,193.95 L423.97,193.07 L424.31,192.16 L424.64,191.24 L424.97,190.35 L425.30,189.50 L425.62,188.65 L425.94,187.79 L426.25,186.95 L426.56,186.16 L426.88,185.47 L427.20,184.90 L427.54,184.42 L427.89,184.00 L428.24,183.68 L428.58,183.47 L428.91,183.44 L429.20,183.60 L429.46,183.99 L429.68,184.57 L429.89,185.32 L430.09,186.20 L430.29,187.17 L430.50,188.20 L430.73,189.33 L430.96,190.61 L431.20,191.98 L431.44,193.39 L431.67,194.78 L431.90,196.10 L432.12,197.37 L432.34,198.64 L432.56,199.89 L432.77,201.11 L432.98,202.29 L433.20,203.40 L433.42,204.51 L433.63,205.64 L433.85,206.72 L434.07,207.69 L434.28,208.47 L434.50,209.00 L434.72,209.28 L434.93,209.36 L435.15,209.26 L435.37,208.99 L435.58,208.57 L435.80,208.00 L436.02,207.22 L436.23,206.21 L436.44,205.04 L436.66,203.79 L436.88,202.55 L437.10,201.40 L437.33,200.33 L437.57,199.27 L437.81,198.23 L438.05,197.17 L438.28,196.10 L438.50,195.00 L438.70,193.94 L438.90,192.93 L439.08,191.91 L439.26,190.80 L439.43,189.52 L439.60,188.00 L439.76,186.20 L439.92,184.19 L440.07,182.00 L440.21,179.70 L440.36,177.35 L440.50,175.00 L440.64,172.67 L440.76,170.33 L440.89,167.94 L441.01,165.44 L441.15,162.81 L441.30,160.00 L441.44,157.22 L441.56,154.54 L441.68,151.72 L441.84,148.52 L442.07,144.69 L442.40,140.00 L442.85,133.56 L443.41,125.40 L444.03,116.61 L444.68,108.30 L445.32,101.56 L445.90,97.50 L446.43,96.57 L446.94,97.99 L447.43,100.97 L447.92,104.77 L448.41,108.60 L448.90,111.70 L449.39,114.50 L449.87,117.70 L450.34,120.93 L450.83,123.84 L451.35,126.05 L451.90,127.20 L452.50,127.16 L453.13,126.20 L453.79,124.54 L454.46,122.41 L455.13,120.06 L455.80,117.70 L456.48,114.99 L457.19,111.69 L457.91,108.14 L458.60,104.74 L459.24,101.83 L459.80,99.80 L460.26,98.77 L460.64,98.46 L460.98,98.66 L461.29,99.13 L461.62,99.65 L462.00,100.00 L462.44,100.29 L462.90,100.73 L463.38,101.21 L463.87,101.65 L464.34,101.95 L464.80,102.00 L465.24,101.74 L465.67,101.24 L466.09,100.59 L466.50,99.90 L466.90,99.27 L467.30,98.80 L467.69,98.49 L468.06,98.25 L468.43,98.08 L468.79,97.95 L469.15,97.86 L469.50,97.80 L469.84,97.76 L470.17,97.76 L470.49,97.79 L470.81,97.87 L471.15,98.00 L471.50,98.20 L471.87,98.46 L472.26,98.77 L472.66,99.14 L473.06,99.57 L473.48,100.06 L473.90,100.60 L474.33,101.21 L474.78,101.89 L475.24,102.62 L475.70,103.41 L476.15,104.24 L476.60,105.10 L477.05,106.01 L477.50,106.97 L477.94,107.97 L478.38,109.00 L478.80,110.05 L479.20,111.10 L479.57,112.15 L479.91,113.19 L480.24,114.26 L480.56,115.35 L480.87,116.49 L481.20,117.70 L481.53,118.87 L481.87,119.99 L482.21,121.15 L482.54,122.47 L482.87,124.05 L483.20,126.00 L483.52,128.49 L483.84,131.45 L484.15,134.68 L484.46,137.96 L484.78,141.07 L485.10,143.80 L485.41,146.03 L485.71,147.90 L486.02,149.60 L486.34,151.33 L486.70,153.26 L487.10,155.60 L487.56,158.42 L488.08,161.59 L488.63,164.96 L489.19,168.41 L489.75,171.81 L490.30,175.00 L490.83,178.04 L491.37,181.06 L491.90,184.01 L492.43,186.87 L492.97,189.61 L493.50,192.20 L494.02,194.59 L494.53,196.79 L495.03,198.87 L495.55,200.89 L496.10,202.91 L496.70,205.00 L497.35,207.17 L498.05,209.37 L498.78,211.58 L499.53,213.76 L500.27,215.88 L501.00,217.90 L501.72,219.88 L502.43,221.85 L503.15,223.76 L503.87,225.55 L504.58,227.18 L505.30,228.60 L505.99,229.76 L506.66,230.71 L507.32,231.49 L508.01,232.17 L508.76,232.78 L509.60,233.40 L510.60,234.00 L511.74,234.55 L512.94,235.05 L514.11,235.48 L515.16,235.87 L516.00,236.20 L516.60,236.46 L517.03,236.65 L517.34,236.79 L517.57,236.90 L517.78,236.98 L518.00,237.07 L518.22,237.15 L518.41,237.21 L518.56,237.25 L518.70,237.28 L518.84,237.32 L519.00,237.35 L519.17,237.39 L519.33,237.43 L519.50,237.46 L519.67,237.50 L519.83,237.53 L520.00,237.56 L520.17,237.59 L520.33,237.62 L520.50,237.65 L520.67,237.67 L520.83,237.70 L521.00,237.72 L521.17,237.74 L521.33,237.76 L521.50,237.78 L521.67,237.80 L521.83,237.82 L522.00,237.84 L522.17,237.86 L522.33,237.87 L522.50,237.89 L522.67,237.90 L522.83,237.92 L523.00,237.93 L523.17,237.94 L523.33,237.95 L523.50,237.97 L523.67,237.98 L523.83,237.99 L524.00,238.00 L524.17,238.01 L524.33,238.02 L524.50,238.02 L524.67,238.03 L524.83,238.04 L525.00,238.05 L525.17,238.05 L525.33,238.06 L525.50,238.07 L525.67,238.07 L525.83,238.08 L526.00,238.09 L526.17,238.09 L526.33,238.10 L526.50,238.10 L526.67,238.10 L526.83,238.11 L527.00,238.11 L527.17,238.12 L527.33,238.12 L527.50,238.12 L527.67,238.13 L527.83,238.13 L528.00,238.13 L528.17,238.14 L528.33,238.14 L528.50,238.14 L528.67,238.14 L528.83,238.15 L529.00,238.15 L529.17,238.15 L529.33,238.15 L529.50,238.15 L529.67,238.15 L529.83,238.15 L530.00,238.15 L530.17,238.15 L530.33,238.14 L530.50,238.14 L530.67,238.14 L530.83,238.13 L531.00,238.13 L531.17,238.12 L531.33,238.11 L531.50,238.10 L531.67,238.09 L531.83,238.08 L532.00,238.07 L532.17,238.05 L532.33,238.03 L532.50,238.01 L532.67,237.98 L532.83,237.95 L533.00,237.92 L533.17,237.89 L533.33,237.85 L533.50,237.80 L533.67,237.76 L533.83,237.70 L534.00,237.65 L534.17,237.58 L534.33,237.52 L534.50,237.44 L534.67,237.37 L534.83,237.28 L535.00,237.19 L535.17,237.10 L535.33,237.00 L535.50,236.89 L535.67,236.78 L535.83,236.67 L536.00,236.55 L536.17,236.43 L536.33,236.30 L536.50,236.17 L536.67,236.03 L536.83,235.90 L537.00,235.77 L537.17,235.64 L537.33,235.50 L537.50,235.37 L537.67,235.24 L537.83,235.11 L538.00,234.99 L538.17,234.88 L538.33,234.77 L538.50,234.67 L538.67,234.57 L538.83,234.49 L539.00,234.41 L539.17,234.35 L539.33,234.30 L539.50,234.26 L539.67,234.22 L539.83,234.20 L540.00,234.20 L540.17,234.20 L540.33,234.22 L540.50,234.26 L540.67,234.30 L540.83,234.35 L541.00,234.41 L541.17,234.49 L541.33,234.57 L541.50,234.67 L541.67,234.77 L541.83,234.88 L542.00,235.00 L542.17,235.11 L542.33,235.24 L542.50,235.37 L542.67,235.51 L542.83,235.64 L543.00,235.77 L543.17,235.90 L543.33,236.04 L543.50,236.17 L543.67,236.30 L543.83,236.43 L544.00,236.55 L544.17,236.67 L544.33,236.79 L544.50,236.90 L544.67,237.01 L544.83,237.11 L545.00,237.20 L545.17,237.29 L545.33,237.37 L545.50,237.45 L545.67,237.53 L545.83,237.59 L546.00,237.66 L546.17,237.72 L546.33,237.77 L546.50,237.82 L546.67,237.86 L546.83,237.90 L547.00,237.94 L547.17,237.97 L547.33,238.00 L547.50,238.02 L547.67,238.05 L547.83,238.06 L548.00,238.08 L548.17,238.10 L548.33,238.11 L548.50,238.12 L548.67,238.13 L548.83,238.14 L549.00,238.14 L549.17,238.15 L549.33,238.15 L549.50,238.15 L549.67,238.15 L549.83,238.15 L550.00,238.15 L550.17,238.14 L550.33,238.14 L550.50,238.13 L550.67,238.12 L550.83,238.11 L551.00,238.09 L551.17,238.07 L551.33,238.05 L551.50,238.03 L551.67,238.00 L551.83,237.97 L552.00,237.94 L552.17,237.90 L552.33,237.85 L552.50,237.81 L552.67,237.75 L552.83,237.70 L553.00,237.63 L553.17,237.56 L553.33,237.49 L553.50,237.41 L553.67,237.33 L553.83,237.24 L554.00,237.15 L554.17,237.05 L554.33,236.95 L554.50,236.84 L554.67,236.73 L554.83,236.62 L555.00,236.51 L555.17,236.40 L555.33,236.29 L555.50,236.17 L555.67,236.06 L555.83,235.96 L556.00,235.86 L556.17,235.77 L556.33,235.68 L556.50,235.60 L556.67,235.52 L556.83,235.46 L557.00,235.40 L557.17,235.36 L557.33,235.33 L557.50,235.31 L557.67,235.30 L557.83,235.31 L558.00,235.32 L558.17,235.35 L558.33,235.39 L558.50,235.44 L558.67,235.50 L558.83,235.57 L559.00,235.64 L559.17,235.72 L559.33,235.82 L559.50,235.92 L559.67,236.02 L559.83,236.13 L560.00,236.24 L560.17,236.35 L560.33,236.46 L560.50,236.57 L560.67,236.69 L560.83,236.80 L561.00,236.90 L561.17,237.00 L561.33,237.10 L561.50,237.20 L561.67,237.29 L561.83,237.38 L562.00,237.46 L562.17,237.53 L562.33,237.60 L562.50,237.67 L562.67,237.73 L562.83,237.78 L563.00,237.83 L563.17,237.87 L563.33,237.91 L563.50,237.94 L563.67,237.97 L563.83,238.00 L564.00,238.02 L564.17,238.03 L564.33,238.04 L564.50,238.05 L564.67,238.05 L564.83,238.05 L565.00,238.04 L565.17,238.03 L565.33,238.01 L565.50,237.99 L565.67,237.97 L565.83,237.94 L566.00,237.90 L566.17,237.85 L566.33,237.81 L566.50,237.75 L566.67,237.69 L566.83,237.63 L567.00,237.56 L567.17,237.48 L567.33,237.40 L567.50,237.31 L567.67,237.22 L567.83,237.13 L568.00,237.04 L568.17,236.95 L568.33,236.85 L568.50,236.75 L568.67,236.66 L568.83,236.57 L569.00,236.48 L569.17,236.41 L569.33,236.34 L569.50,236.27 L569.67,236.21 L569.83,236.17 L570.00,236.13 L570.17,236.11 L570.33,236.11 L570.50,236.11 L570.67,236.12 L570.83,236.14 L571.00,236.18 L571.17,236.22 L571.33,236.28 L571.50,236.35 L571.67,236.43 L571.83,236.51 L572.00,236.59 L572.17,236.67 L572.33,236.77 L572.50,236.87 L572.67,236.97 L572.83,237.06 L573.00,237.16 L573.17,237.24 L573.33,237.33 L573.50,237.42 L573.67,237.50 L573.83,237.58 L574.00,237.65 L574.18,237.72 L574.37,237.78 L574.56,237.84 L574.74,237.89 L574.89,237.93 L575.00,237.96" stroke="#ff0000"/>
<path d="M378.00,238.20 L378.83,238.14 L379.98,238.05 L381.34,237.95 L382.79,237.84 L384.22,237.72 L385.50,237.60 L386.65,237.51 L387.77,237.44 L388.86,237.36 L389.93,237.25 L391.01,237.07 L392.10,236.80 L393.22,236.46 L394.35,236.09 L395.49,235.66 L396.60,235.12 L397.68,234.44 L398.70,233.60 L399.66,232.59 L400.58,231.45 L401.46,230.17 L402.31,228.75 L403.12,227.20 L403.90,225.50 L404.65,223.76 L405.37,222.00 L406.06,220.09 L406.71,217.94 L407.33,215.41 L407.90,212.40 L408.43,208.61 L408.91,204.07 L409.36,199.16 L409.77,194.26 L410.15,189.74 L410.50,186.00 L410.81,182.89 L411.07,180.10 L411.31,177.69 L411.51,175.75 L411.71,174.36 L411.90,173.60 L412.07,173.69 L412.22,174.61 L412.36,176.07 L412.49,177.81 L412.63,179.55 L412.80,181.00 L412.99,182.27 L413.20,183.61 L413.43,184.94 L413.65,186.20 L413.88,187.31 L414.10,188.20 L414.32,188.85 L414.54,189.31 L414.76,189.63 L414.97,189.84 L415.19,189.98 L415.40,190.10 L415.61,190.16 L415.81,190.14 L416.01,190.04 L416.20,189.91 L416.40,189.75 L416.60,189.60 L416.80,189.42 L417.00,189.19 L417.19,188.94 L417.39,188.71 L417.59,188.52 L417.80,188.40 L418.01,188.33 L418.22,188.27 L418.43,188.25 L418.65,188.31 L418.87,188.48 L419.10,188.80 L419.33,189.30 L419.57,189.98 L419.81,190.76 L420.06,191.60 L420.32,192.43 L420.60,193.20 L420.90,193.94 L421.23,194.70 L421.57,195.45 L421.91,196.17 L422.26,196.83 L422.60,197.40 L422.93,197.87 L423.27,198.26 L423.60,198.59 L423.93,198.88 L424.27,199.14 L424.60,199.40 L424.93,199.67 L425.27,199.96 L425.60,200.21 L425.93,200.41 L426.27,200.52 L426.60,200.50 L426.94,200.29 L427.29,199.89 L427.64,199.40 L427.99,198.91 L428.31,198.51 L428.60,198.30 L428.86,198.28 L429.09,198.39 L429.29,198.59 L429.49,198.84 L429.69,199.13 L429.90,199.40 L430.11,199.65 L430.31,199.90 L430.51,200.18 L430.71,200.51 L430.94,200.91 L431.20,201.40 L431.50,202.02 L431.84,202.76 L432.20,203.58 L432.56,204.41 L432.90,205.24 L433.20,206.00 L433.45,206.77 L433.66,207.60 L433.85,208.41 L434.04,209.13 L434.25,209.69 L434.50,210.00 L434.80,210.08 L435.13,210.00 L435.49,209.75 L435.84,209.33 L436.19,208.75 L436.50,208.00 L436.78,207.03 L437.03,205.81 L437.28,204.44 L437.51,202.96 L437.75,201.46 L438.00,200.00 L438.27,198.64 L438.56,197.33 L438.85,196.00 L439.13,194.56 L439.38,192.92 L439.60,191.00 L439.77,188.73 L439.90,186.15 L440.01,183.38 L440.10,180.52 L440.19,177.69 L440.30,175.00 L440.41,172.50 L440.51,170.11 L440.61,167.75 L440.72,165.33 L440.85,162.78 L441.00,160.00 L441.14,157.12 L441.25,154.23 L441.38,151.20 L441.57,147.90 L441.86,144.21 L442.30,140.00 L442.95,134.65 L443.80,128.16 L444.74,121.26 L445.70,114.73 L446.59,109.33 L447.30,105.80 L447.83,104.45 L448.23,104.74 L448.56,106.16 L448.86,108.18 L449.15,110.30 L449.50,112.00 L449.87,113.64 L450.22,115.69 L450.58,117.84 L450.97,119.77 L451.40,121.17 L451.90,121.70 L452.49,121.19 L453.15,119.85 L453.86,117.97 L454.59,115.84 L455.31,113.75 L456.00,112.00 L456.64,110.43 L457.24,108.78 L457.84,107.17 L458.46,105.72 L459.10,104.56 L459.80,103.80 L460.57,103.58 L461.40,103.83 L462.26,104.37 L463.13,105.00 L463.98,105.54 L464.80,105.80 L465.60,105.74 L466.41,105.51 L467.20,105.19 L467.96,104.86 L468.67,104.60 L469.30,104.50 L469.84,104.54 L470.30,104.67 L470.71,104.86 L471.10,105.12 L471.48,105.44 L471.90,105.80 L472.35,106.21 L472.80,106.68 L473.25,107.20 L473.70,107.78 L474.15,108.41 L474.60,109.10 L475.04,109.85 L475.47,110.67 L475.90,111.54 L476.33,112.46 L476.76,113.42 L477.20,114.40 L477.65,115.41 L478.11,116.45 L478.58,117.53 L479.04,118.65 L479.48,119.80 L479.90,121.00 L480.28,122.17 L480.63,123.31 L480.96,124.49 L481.29,125.78 L481.63,127.26 L482.00,129.00 L482.41,131.11 L482.85,133.54 L483.30,136.16 L483.75,138.84 L484.19,141.43 L484.60,143.80 L484.97,145.85 L485.30,147.67 L485.61,149.41 L485.94,151.21 L486.29,153.23 L486.70,155.60 L487.17,158.42 L487.69,161.59 L488.23,164.96 L488.79,168.41 L489.35,171.81 L489.90,175.00 L490.43,178.07 L490.97,181.14 L491.50,184.14 L492.03,187.03 L492.57,189.73 L493.10,192.20 L493.63,194.33 L494.15,196.17 L494.67,197.82 L495.20,199.41 L495.74,201.06 L496.30,202.90 L496.88,204.95 L497.48,207.12 L498.09,209.35 L498.71,211.58 L499.35,213.75 L500.00,215.80 L500.66,217.76 L501.32,219.69 L501.99,221.55 L502.69,223.33 L503.42,224.99 L504.20,226.50 L505.02,227.87 L505.87,229.11 L506.76,230.24 L507.68,231.26 L508.63,232.18 L509.60,233.00 L510.66,233.70 L511.82,234.27 L513.01,234.74 L514.16,235.13 L515.18,235.48 L516.00,235.80 L516.60,236.08 L517.03,236.30 L517.34,236.48 L517.57,236.61 L517.78,236.73 L518.00,236.84 L518.22,236.94 L518.41,237.01 L518.56,237.06 L518.70,237.10 L518.84,237.14 L519.00,237.18 L519.17,237.23 L519.33,237.27 L519.50,237.32 L519.67,237.36 L519.83,237.40 L520.00,237.43 L520.17,237.47 L520.33,237.50 L520.50,237.54 L520.67,237.57 L520.83,237.60 L521.00,237.62 L521.17,237.65 L521.33,237.68 L521.50,237.70 L521.67,237.72 L521.83,237.75 L522.00,237.77 L522.17,237.79 L522.33,237.81 L522.50,237.83 L522.67,237.84 L522.83,237.86 L523.00,237.88 L523.17,237.89 L523.33,237.90 L523.50,237.92 L523.67,237.93 L523.83,237.94 L524.00,237.96 L524.17,237.97 L524.33,237.98 L524.50,237.99 L524.67,238.00 L524.83,238.01 L525.00,238.02 L525.17,238.03 L525.33,238.03 L525.50,238.04 L525.67,238.05 L525.83,238.06 L526.00,238.06 L526.17,238.07 L526.33,238.07 L526.50,238.08 L526.67,238.09 L526.83,238.09 L527.00,238.10 L527.17,238.10 L527.33,238.11 L527.50,238.11 L527.67,238.11 L527.83,238.12 L528.00,238.12 L528.17,238.12 L528.33,238.13 L528.50,238.13 L528.67,238.13 L528.83,238.13 L529.00,238.14 L529.17,238.14 L529.33,238.14 L529.50,238.14 L529.67,238.14 L529.83,238.14 L530.00,238.14 L530.17,238.14 L530.33,238.14 L530.50,238.13 L530.67,238.13 L530.83,238.13 L531.00,238.12 L531.17,238.11 L531.33,238.11 L531.50,238.10 L531.67,238.08 L531.83,238.07 L532.00,238.06 L532.17,238.04 L532.33,238.02 L532.50,237.99 L532.67,237.97 L532.83,237.94 L533.00,237.91 L533.17,237.87 L533.33,237.83 L533.50,237.78 L533.67,237.73 L533.83,237.68 L534.00,237.62 L534.17,237.55 L534.33,237.48 L534.50,237.40 L534.67,237.32 L534.83,237.24 L535.00,237.14 L535.17,237.04 L535.33,236.94 L535.50,236.83 L535.67,236.71 L535.83,236.59 L536.00,236.47 L536.17,236.34 L536.33,236.20 L536.50,236.06 L536.67,235.92 L536.83,235.78 L537.00,235.65 L537.17,235.51 L537.33,235.37 L537.50,235.23 L537.67,235.09 L537.83,234.96 L538.00,234.83 L538.17,234.71 L538.33,234.60 L538.50,234.49 L538.67,234.39 L538.83,234.30 L539.00,234.22 L539.17,234.16 L539.33,234.10 L539.50,234.06 L539.67,234.03 L539.83,234.00 L540.00,234.00 L540.17,234.00 L540.33,234.03 L540.50,234.06 L540.67,234.10 L540.83,234.16 L541.00,234.23 L541.17,234.30 L541.33,234.39 L541.50,234.49 L541.67,234.60 L541.83,234.72 L542.00,234.84 L542.17,234.96 L542.33,235.09 L542.50,235.23 L542.67,235.37 L542.83,235.51 L543.00,235.65 L543.17,235.79 L543.33,235.93 L543.50,236.07 L543.67,236.21 L543.83,236.34 L544.00,236.47 L544.17,236.60 L544.33,236.72 L544.50,236.83 L544.67,236.95 L544.83,237.05 L545.00,237.15 L545.17,237.25 L545.33,237.33 L545.50,237.42 L545.67,237.49 L545.83,237.56 L546.00,237.63 L546.17,237.69 L546.33,237.75 L546.50,237.80 L546.67,237.84 L546.83,237.88 L547.00,237.92 L547.17,237.96 L547.33,237.99 L547.50,238.01 L547.67,238.04 L547.83,238.06 L548.00,238.08 L548.17,238.09 L548.33,238.11 L548.50,238.12 L548.67,238.13 L548.83,238.14 L549.00,238.14 L549.17,238.15 L549.33,238.15 L549.50,238.15 L549.67,238.15 L549.83,238.15 L550.00,238.15 L550.17,238.14 L550.33,238.14 L550.50,238.13 L550.67,238.12 L550.83,238.11 L551.00,238.09 L551.17,238.08 L551.33,238.06 L551.50,238.03 L551.67,238.01 L551.83,237.98 L552.00,237.95 L552.17,237.91 L552.33,237.87 L552.50,237.82 L552.67,237.77 L552.83,237.71 L553.00,237.65 L553.17,237.59 L553.33,237.51 L553.50,237.44 L553.67,237.36 L553.83,237.27 L554.00,237.18 L554.17,237.09 L554.33,236.99 L554.50,236.88 L554.67,236.78 L554.83,236.67 L555.00,236.57 L555.17,236.46 L555.33,236.35 L555.50,236.24 L555.67,236.13 L555.83,236.03 L556.00,235.94 L556.17,235.85 L556.33,235.77 L556.50,235.69 L556.67,235.61 L556.83,235.55 L557.00,235.50 L557.17,235.46 L557.33,235.43 L557.50,235.41 L557.67,235.40 L557.83,235.41 L558.00,235.42 L558.17,235.44 L558.33,235.48 L558.50,235.53 L558.67,235.59 L558.83,235.66 L559.00,235.73 L559.17,235.81 L559.33,235.90 L559.50,236.00 L559.67,236.10 L559.83,236.20 L560.00,236.31 L560.17,236.41 L560.33,236.52 L560.50,236.63 L560.67,236.74 L560.83,236.85 L561.00,236.95 L561.17,237.05 L561.33,237.14 L561.50,237.23 L561.67,237.32 L561.83,237.41 L562.00,237.49 L562.17,237.56 L562.33,237.62 L562.50,237.69 L562.67,237.74 L562.83,237.80 L563.00,237.84 L563.17,237.88 L563.33,237.92 L563.50,237.95 L563.67,237.98 L563.83,238.00 L564.00,238.02 L564.17,238.04 L564.33,238.05 L564.50,238.05 L564.67,238.06 L564.83,238.05 L565.00,238.05 L565.17,238.04 L565.33,238.02 L565.50,238.00 L565.67,237.98 L565.83,237.95 L566.00,237.91 L566.17,237.87 L566.33,237.82 L566.50,237.77 L566.67,237.72 L566.83,237.66 L567.00,237.59 L567.17,237.52 L567.33,237.44 L567.50,237.36 L567.67,237.27 L567.83,237.18 L568.00,237.10 L568.17,237.01 L568.33,236.91 L568.50,236.82 L568.67,236.73 L568.83,236.64 L569.00,236.57 L569.17,236.50 L569.33,236.43 L569.50,236.36 L569.67,236.31 L569.83,236.26 L570.00,236.23 L570.17,236.21 L570.33,236.21 L570.50,236.21 L570.67,236.22 L570.83,236.24 L571.00,236.27 L571.17,236.32 L571.33,236.37 L571.50,236.44 L571.67,236.51 L571.83,236.59 L572.00,236.66 L572.17,236.75 L572.33,236.84 L572.50,236.93 L572.67,237.02 L572.83,237.12 L573.00,237.21 L573.17,237.29 L573.33,237.37 L573.50,237.46 L573.67,237.53 L573.83,237.61 L574.00,237.68 L574.18,237.74 L574.37,237.80 L574.56,237.85 L574.74,237.90 L574.89,237.94 L575.00,237.98" stroke="#800000"/>
<path d="M378.00,238.20 L378.82,238.14 L379.96,238.05 L381.31,237.95 L382.75,237.84 L384.17,237.72 L385.45,237.60 L386.60,237.51 L387.71,237.44 L388.80,237.36 L389.88,237.25 L390.96,237.07 L392.05,236.80 L393.17,236.46 L394.30,236.09 L395.44,235.66 L396.55,235.12 L397.63,234.44 L398.65,233.60 L399.61,232.59 L400.53,231.45 L401.41,230.17 L402.26,228.75 L403.07,227.20 L403.85,225.50 L404.60,223.76 L405.32,222.00 L406.01,220.09 L406.66,217.94 L407.28,215.41 L407.85,212.40 L408.38,208.61 L408.86,204.07 L409.31,199.16 L409.72,194.26 L410.10,189.74 L410.45,186.00 L410.76,182.93 L411.04,180.21 L411.28,177.88 L411.50,175.97 L411.70,174.53 L411.90,173.60 L412.08,173.34 L412.24,173.76 L412.38,174.64 L412.52,175.79 L412.66,176.97 L412.80,178.00 L412.95,178.96 L413.09,180.03 L413.23,181.15 L413.38,182.25 L413.53,183.25 L413.70,184.10 L413.88,184.80 L414.07,185.40 L414.27,185.92 L414.48,186.34 L414.69,186.67 L414.90,186.90 L415.11,187.01 L415.33,187.00 L415.55,186.90 L415.77,186.73 L415.99,186.52 L416.20,186.30 L416.41,186.04 L416.61,185.70 L416.81,185.33 L417.01,184.94 L417.21,184.59 L417.40,184.30 L417.59,184.04 L417.78,183.77 L417.96,183.53 L418.14,183.35 L418.32,183.26 L418.50,183.30 L418.67,183.45 L418.84,183.69 L419.00,184.02 L419.16,184.44 L419.33,184.97 L419.50,185.60 L419.67,186.34 L419.85,187.20 L420.02,188.16 L420.21,189.20 L420.40,190.32 L420.60,191.50 L420.81,192.79 L421.03,194.19 L421.25,195.67 L421.49,197.19 L421.73,198.68 L422.00,200.10 L422.29,201.49 L422.59,202.89 L422.91,204.27 L423.24,205.61 L423.57,206.86 L423.90,208.00 L424.23,209.05 L424.55,210.03 L424.88,210.93 L425.21,211.74 L425.55,212.43 L425.90,213.00 L426.25,213.42 L426.61,213.69 L426.98,213.84 L427.35,213.93 L427.73,213.97 L428.10,214.00 L428.48,213.98 L428.87,213.88 L429.26,213.74 L429.64,213.60 L430.03,213.50 L430.40,213.50 L430.77,213.61 L431.14,213.79 L431.51,214.02 L431.87,214.27 L432.20,214.50 L432.50,214.70 L432.76,214.87 L432.99,215.03 L433.19,215.17 L433.38,215.31 L433.58,215.42 L433.80,215.50 L434.04,215.60 L434.28,215.73 L434.53,215.83 L434.79,215.86 L435.04,215.77 L435.30,215.50 L435.57,215.03 L435.84,214.41 L436.12,213.66 L436.40,212.82 L436.66,211.92 L436.90,211.00 L437.11,210.07 L437.29,209.10 L437.45,208.07 L437.61,206.96 L437.79,205.74 L438.00,204.40 L438.24,202.99 L438.50,201.53 L438.77,199.98 L439.05,198.24 L439.33,196.28 L439.60,194.00 L439.87,191.28 L440.16,188.16 L440.44,184.79 L440.71,181.36 L440.97,178.03 L441.20,175.00 L441.40,172.33 L441.58,169.89 L441.74,167.56 L441.89,165.22 L442.04,162.74 L442.20,160.00 L442.34,157.14 L442.43,154.30 L442.53,151.33 L442.67,148.05 L442.88,144.33 L443.20,140.00 L443.67,134.41 L444.27,127.56 L444.95,120.26 L445.65,113.33 L446.32,107.57 L446.90,103.80 L447.39,102.39 L447.82,102.74 L448.22,104.28 L448.61,106.40 L449.03,108.50 L449.50,110.00 L450.02,111.16 L450.59,112.51 L451.17,113.84 L451.76,114.96 L452.34,115.65 L452.90,115.70 L453.43,114.97 L453.95,113.59 L454.46,111.78 L454.97,109.76 L455.48,107.76 L456.00,106.00 L456.50,104.29 L456.97,102.42 L457.44,100.56 L457.95,98.90 L458.53,97.62 L459.20,96.90 L460.00,96.91 L460.90,97.55 L461.87,98.57 L462.87,99.71 L463.86,100.74 L464.80,101.40 L465.72,101.67 L466.66,101.76 L467.59,101.72 L468.47,101.64 L469.29,101.58 L470.00,101.60 L470.58,101.67 L471.06,101.73 L471.46,101.81 L471.83,101.94 L472.20,102.16 L472.60,102.50 L473.03,102.97 L473.46,103.55 L473.89,104.21 L474.33,104.94 L474.76,105.71 L475.20,106.50 L475.65,107.31 L476.10,108.15 L476.56,109.03 L477.01,109.96 L477.46,110.95 L477.90,112.00 L478.33,113.13 L478.76,114.35 L479.18,115.62 L479.59,116.93 L480.00,118.23 L480.40,119.50 L480.80,120.64 L481.19,121.66 L481.57,122.67 L481.95,123.81 L482.32,125.21 L482.70,127.00 L483.07,129.32 L483.45,132.10 L483.82,135.13 L484.19,138.23 L484.55,141.18 L484.90,143.80 L485.24,145.97 L485.57,147.82 L485.89,149.54 L486.22,151.29 L486.55,153.25 L486.90,155.60 L487.27,158.44 L487.65,161.67 L488.04,165.10 L488.43,168.58 L488.82,171.93 L489.20,175.00 L489.57,177.78 L489.94,180.40 L490.31,182.91 L490.68,185.32 L491.04,187.67 L491.40,190.00 L491.74,192.27 L492.07,194.46 L492.39,196.58 L492.72,198.68 L493.09,200.77 L493.50,202.90 L493.97,205.08 L494.49,207.28 L495.03,209.49 L495.59,211.66 L496.15,213.78 L496.70,215.80 L497.22,217.77 L497.73,219.70 L498.23,221.58 L498.75,223.36 L499.30,225.01 L499.90,226.50 L500.54,227.81 L501.21,228.97 L501.91,230.01 L502.64,230.93 L503.41,231.75 L504.20,232.50 L505.02,233.14 L505.88,233.65 L506.77,234.07 L507.69,234.43 L508.63,234.76 L509.60,235.10 L510.66,235.45 L511.82,235.77 L513.01,236.07 L514.16,236.35 L515.18,236.59 L516.00,236.80 L516.60,236.97 L517.03,237.10 L517.34,237.20 L517.57,237.28 L517.78,237.34 L518.00,237.41 L518.22,237.47 L518.41,237.51 L518.56,237.54 L518.70,237.56 L518.84,237.58 L519.00,237.61 L519.17,237.63 L519.33,237.66 L519.50,237.69 L519.67,237.71 L519.83,237.73 L520.00,237.75 L520.17,237.77 L520.33,237.79 L520.50,237.81 L520.67,237.83 L520.83,237.85 L521.00,237.86 L521.17,237.88 L521.33,237.90 L521.50,237.91 L521.67,237.92 L521.83,237.94 L522.00,237.95 L522.17,237.96 L522.33,237.97 L522.50,237.98 L522.67,237.99 L522.83,238.00 L523.00,238.01 L523.17,238.02 L523.33,238.03 L523.50,238.04 L523.67,238.04 L523.83,238.05 L524.00,238.06 L524.17,238.06 L524.33,238.07 L524.50,238.08 L524.67,238.08 L524.83,238.09 L525.00,238.09 L525.17,238.10 L525.33,238.10 L525.50,238.11 L525.67,238.11 L525.83,238.12 L526.00,238.12 L526.17,238.12 L526.33,238.13 L526.50,238.13 L526.67,238.13 L526.83,238.14 L527.00,238.14 L527.17,238.14 L527.33,238.14 L527.50,238.15 L527.67,238.15 L527.83,238.15 L528.00,238.15 L528.17,238.15 L528.33,238.16 L528.50,238.16 L528.67,238.16 L528.83,238.16 L529.00,238.16 L529.17,238.16 L529.33,238.16 L529.50,238.16 L529.67,238.16 L529.83,238.16 L530.00,238.15 L530.17,238.15 L530.33,238.15 L530.50,238.14 L530.67,238.14 L530.83,238.13 L531.00,238.12 L531.17,238.11 L531.33,238.10 L531.50,238.09 L531.67,238.08 L531.83,238.06 L532.00,238.04 L532.17,238.01 L532.33,237.99 L532.50,237.96 L532.67,237.93 L532.83,237.89 L533.00,237.85 L533.17,237.80 L533.33,237.75 L533.50,237.69 L533.67,237.63 L533.83,237.56 L534.00,237.49 L534.17,237.41 L534.33,237.32 L534.50,237.22 L534.67,237.12 L534.83,237.01 L535.00,236.90 L535.17,236.77 L535.33,236.64 L535.50,236.50 L535.67,236.36 L535.83,236.21 L536.00,236.06 L536.17,235.90 L536.33,235.73 L536.50,235.56 L536.67,235.39 L536.83,235.21 L537.00,235.04 L537.17,234.87 L537.33,234.70 L537.50,234.52 L537.67,234.35 L537.83,234.19 L538.00,234.03 L538.17,233.89 L538.33,233.75 L538.50,233.61 L538.67,233.49 L538.83,233.37 L539.00,233.28 L539.17,233.20 L539.33,233.13 L539.50,233.07 L539.67,233.03 L539.83,233.01 L540.00,233.00 L540.17,233.01 L540.33,233.03 L540.50,233.07 L540.67,233.13 L540.83,233.20 L541.00,233.28 L541.17,233.38 L541.33,233.49 L541.50,233.61 L541.67,233.75 L541.83,233.89 L542.00,234.04 L542.17,234.19 L542.33,234.35 L542.50,234.52 L542.67,234.70 L542.83,234.87 L543.00,235.05 L543.17,235.22 L543.33,235.39 L543.50,235.56 L543.67,235.74 L543.83,235.90 L544.00,236.06 L544.17,236.21 L544.33,236.36 L544.50,236.51 L544.67,236.65 L544.83,236.78 L545.00,236.90 L545.17,237.02 L545.33,237.13 L545.50,237.23 L545.67,237.32 L545.83,237.41 L546.00,237.50 L546.17,237.57 L546.33,237.64 L546.50,237.70 L546.67,237.76 L546.83,237.81 L547.00,237.86 L547.17,237.90 L547.33,237.94 L547.50,237.97 L547.67,238.00 L547.83,238.03 L548.00,238.05 L548.17,238.07 L548.33,238.09 L548.50,238.10 L548.67,238.12 L548.83,238.13 L549.00,238.14 L549.17,238.14 L549.33,238.15 L549.50,238.15 L549.67,238.16 L549.83,238.16 L550.00,238.16 L550.17,238.15 L550.33,238.15 L550.50,238.15 L550.67,238.14 L550.83,238.13 L551.00,238.13 L551.17,238.11 L551.33,238.10 L551.50,238.09 L551.67,238.07 L551.83,238.05 L552.00,238.03 L552.17,238.00 L552.33,237.97 L552.50,237.94 L552.67,237.91 L552.83,237.87 L553.00,237.83 L553.17,237.78 L553.33,237.73 L553.50,237.68 L553.67,237.63 L553.83,237.57 L554.00,237.51 L554.17,237.45 L554.33,237.38 L554.50,237.31 L554.67,237.24 L554.83,237.16 L555.00,237.09 L555.17,237.02 L555.33,236.95 L555.50,236.87 L555.67,236.80 L555.83,236.73 L556.00,236.67 L556.17,236.61 L556.33,236.55 L556.50,236.49 L556.67,236.44 L556.83,236.40 L557.00,236.37 L557.17,236.34 L557.33,236.32 L557.50,236.31 L557.67,236.30 L557.83,236.30 L558.00,236.31 L558.17,236.33 L558.33,236.36 L558.50,236.39 L558.67,236.43 L558.83,236.47 L559.00,236.52 L559.17,236.58 L559.33,236.64 L559.50,236.71 L559.67,236.77 L559.83,236.85 L560.00,236.92 L560.17,236.99 L560.33,237.06 L560.50,237.13 L560.67,237.21 L560.83,237.28 L561.00,237.35 L561.17,237.42 L561.33,237.48 L561.50,237.55 L561.67,237.61 L561.83,237.66 L562.00,237.72 L562.17,237.76 L562.33,237.81 L562.50,237.85 L562.67,237.89 L562.83,237.93 L563.00,237.96 L563.17,237.99 L563.33,238.01 L563.50,238.03 L563.67,238.05 L563.83,238.07 L564.00,238.08 L564.17,238.09 L564.33,238.10 L564.50,238.11 L564.67,238.11 L564.83,238.11 L565.00,238.11 L565.17,238.10 L565.33,238.10 L565.50,238.09 L565.67,238.07 L565.83,238.06 L566.00,238.04 L566.17,238.02 L566.33,237.99 L566.50,237.96 L566.67,237.93 L566.83,237.90 L567.00,237.86 L567.17,237.82 L567.33,237.78 L567.50,237.74 L567.67,237.69 L567.83,237.64 L568.00,237.59 L568.17,237.54 L568.33,237.49 L568.50,237.44 L568.67,237.39 L568.83,237.34 L569.00,237.30 L569.17,237.26 L569.33,237.22 L569.50,237.19 L569.67,237.16 L569.83,237.14 L570.00,237.12 L570.17,237.11 L570.33,237.10 L570.50,237.10 L570.67,237.11 L570.83,237.12 L571.00,237.14 L571.17,237.16 L571.33,237.19 L571.50,237.23 L571.67,237.27 L571.83,237.31 L572.00,237.36 L572.17,237.40 L572.33,237.45 L572.50,237.50 L572.67,237.55 L572.83,237.60 L573.00,237.65 L573.17,237.70 L573.33,237.75 L573.50,237.79 L573.67,237.83 L573.83,237.87 L574.00,237.91 L574.18,237.95 L574.37,237.98 L574.56,238.01 L574.74,238.04 L574.89,238.06 L575.00,238.08" stroke="#0000ff"/>
<path d="M378.00,238.20 L378.77,238.14 L379.83,238.05 L381.09,237.95 L382.44,237.84 L383.78,237.72 L385.00,237.60 L386.12,237.51 L387.23,237.44 L388.32,237.36 L389.41,237.25 L390.50,237.07 L391.60,236.80 L392.72,236.46 L393.85,236.09 L394.99,235.66 L396.10,235.12 L397.18,234.44 L398.20,233.60 L399.16,232.59 L400.08,231.45 L400.96,230.17 L401.81,228.75 L402.62,227.20 L403.40,225.50 L404.15,223.76 L404.87,222.00 L405.56,220.09 L406.21,217.94 L406.83,215.41 L407.40,212.40 L407.92,208.61 L408.40,204.07 L408.83,199.16 L409.24,194.26 L409.62,189.74 L410.00,186.00 L410.37,182.95 L410.73,180.28 L411.07,178.00 L411.38,176.12 L411.66,174.65 L411.90,173.60 L412.07,173.10 L412.18,173.15 L412.25,173.62 L412.32,174.35 L412.43,175.19 L412.60,176.00 L412.85,176.95 L413.15,178.21 L413.49,179.58 L413.84,180.88 L414.18,181.91 L414.50,182.50 L414.79,182.56 L415.07,182.23 L415.34,181.64 L415.62,180.92 L415.90,180.20 L416.20,179.60 L416.52,179.02 L416.87,178.34 L417.22,177.66 L417.57,177.07 L417.90,176.68 L418.20,176.60 L418.47,176.84 L418.73,177.32 L418.96,178.00 L419.19,178.84 L419.40,179.79 L419.60,180.80 L419.79,181.92 L419.95,183.18 L420.10,184.55 L420.25,186.00 L420.41,187.49 L420.60,189.00 L420.81,190.59 L421.04,192.32 L421.28,194.09 L421.53,195.81 L421.77,197.41 L422.00,198.80 L422.22,199.93 L422.44,200.87 L422.66,201.68 L422.87,202.43 L423.08,203.18 L423.30,204.00 L423.51,204.87 L423.72,205.73 L423.93,206.59 L424.14,207.46 L424.37,208.36 L424.60,209.30 L424.84,210.27 L425.08,211.25 L425.33,212.26 L425.59,213.30 L425.88,214.38 L426.20,215.50 L426.56,216.74 L426.97,218.10 L427.39,219.50 L427.83,220.84 L428.27,222.04 L428.70,223.00 L429.12,223.72 L429.54,224.26 L429.96,224.66 L430.37,224.93 L430.79,225.10 L431.20,225.20 L431.60,225.23 L432.00,225.18 L432.40,225.02 L432.80,224.76 L433.20,224.35 L433.60,223.80 L434.02,223.07 L434.46,222.16 L434.89,221.12 L435.32,219.99 L435.73,218.80 L436.10,217.60 L436.43,216.41 L436.72,215.21 L436.99,213.95 L437.26,212.59 L437.52,211.09 L437.80,209.40 L438.09,207.56 L438.38,205.60 L438.68,203.50 L438.97,201.22 L439.28,198.73 L439.60,196.00 L439.94,192.87 L440.30,189.34 L440.67,185.60 L441.03,181.84 L441.38,178.24 L441.70,175.00 L441.99,172.21 L442.26,169.74 L442.52,167.44 L442.76,165.15 L442.99,162.72 L443.20,160.00 L443.39,157.01 L443.56,153.89 L443.71,150.62 L443.86,147.22 L444.02,143.68 L444.20,140.00 L444.39,135.95 L444.57,131.49 L444.76,126.89 L444.97,122.42 L445.22,118.37 L445.50,115.00 L445.83,112.29 L446.21,110.01 L446.62,108.14 L447.04,106.66 L447.48,105.55 L447.90,104.80 L448.32,104.55 L448.76,104.86 L449.20,105.53 L449.64,106.40 L450.08,107.28 L450.50,108.00 L450.90,108.77 L451.29,109.77 L451.67,110.78 L452.06,111.59 L452.46,111.97 L452.90,111.70 L453.37,110.60 L453.86,108.82 L454.36,106.61 L454.89,104.23 L455.43,101.94 L456.00,100.00 L456.59,98.22 L457.21,96.34 L457.84,94.56 L458.49,93.04 L459.15,91.97 L459.80,91.50 L460.46,91.85 L461.15,92.92 L461.84,94.43 L462.52,96.10 L463.18,97.65 L463.80,98.80 L464.38,99.58 L464.93,100.22 L465.46,100.74 L465.98,101.16 L466.49,101.51 L467.00,101.80 L467.52,101.99 L468.03,102.05 L468.54,102.03 L469.04,102.00 L469.53,102.00 L470.00,102.10 L470.46,102.28 L470.90,102.50 L471.32,102.76 L471.75,103.06 L472.17,103.41 L472.60,103.80 L473.03,104.23 L473.46,104.71 L473.89,105.22 L474.33,105.79 L474.76,106.42 L475.20,107.10 L475.65,107.85 L476.10,108.65 L476.56,109.51 L477.02,110.43 L477.47,111.39 L477.90,112.40 L478.32,113.47 L478.73,114.62 L479.13,115.81 L479.53,117.04 L479.92,118.27 L480.30,119.50 L480.68,120.62 L481.05,121.63 L481.41,122.64 L481.77,123.80 L482.14,125.21 L482.50,127.00 L482.87,129.32 L483.24,132.10 L483.61,135.13 L483.98,138.23 L484.34,141.18 L484.70,143.80 L485.05,145.97 L485.40,147.82 L485.75,149.54 L486.09,151.29 L486.40,153.25 L486.70,155.60 L486.96,158.42 L487.18,161.59 L487.39,164.96 L487.60,168.41 L487.83,171.81 L488.10,175.00 L488.42,178.00 L488.78,180.90 L489.16,183.74 L489.54,186.56 L489.93,189.36 L490.30,192.20 L490.64,195.10 L490.96,198.06 L491.28,201.02 L491.61,203.91 L491.98,206.69 L492.40,209.30 L492.88,211.74 L493.41,214.07 L493.98,216.28 L494.56,218.37 L495.14,220.35 L495.70,222.20 L496.23,223.93 L496.73,225.54 L497.24,227.04 L497.76,228.41 L498.30,229.67 L498.90,230.80 L499.53,231.79 L500.17,232.63 L500.85,233.36 L501.57,233.99 L502.35,234.56 L503.20,235.10 L504.15,235.59 L505.18,236.01 L506.27,236.38 L507.39,236.69 L508.51,236.96 L509.60,237.20 L510.72,237.40 L511.90,237.56 L513.08,237.67 L514.19,237.76 L515.19,237.83 L516.00,237.90 L516.60,237.96 L517.03,237.99 L517.34,238.01 L517.57,238.01 L517.78,238.02 L518.00,238.03 L518.22,238.04 L518.41,238.05 L518.56,238.06 L518.70,238.06 L518.84,238.07 L519.00,238.07 L519.17,238.08 L519.33,238.08 L519.50,238.09 L519.67,238.09 L519.83,238.10 L520.00,238.10 L520.17,238.11 L520.33,238.11 L520.50,238.12 L520.67,238.12 L520.83,238.12 L521.00,238.13 L521.17,238.13 L521.33,238.13 L521.50,238.14 L521.67,238.14 L521.83,238.14 L522.00,238.15 L522.17,238.15 L522.33,238.15 L522.50,238.15 L522.67,238.16 L522.83,238.16 L523.00,238.16 L523.17,238.16 L523.33,238.16 L523.50,238.16 L523.67,238.17 L523.83,238.17 L524.00,238.17 L524.17,238.17 L524.33,238.17 L524.50,238.17 L524.67,238.17 L524.83,238.18 L525.00,238.18 L525.17,238.18 L525.33,238.18 L525.50,238.18 L525.67,238.18 L525.83,238.18 L526.00,238.18 L526.17,238.18 L526.33,238.18 L526.50,238.18 L526.67,238.19 L526.83,238.19 L527.00,238.19 L527.17,238.19 L527.33,238.19 L527.50,238.19 L527.67,238.19 L527.83,238.19 L528.00,238.19 L528.17,238.19 L528.33,238.19 L528.50,238.19 L528.67,238.19 L528.83,238.19 L529.00,238.18 L529.17,238.18 L529.33,238.18 L529.50,238.18 L529.67,238.18 L529.83,238.17 L530.00,238.17 L530.17,238.16 L530.33,238.16 L530.50,238.15 L530.67,238.15 L530.83,238.14 L531.00,238.12 L531.17,238.11 L531.33,238.10 L531.50,238.08 L531.67,238.06 L531.83,238.04 L532.00,238.01 L532.17,237.98 L532.33,237.95 L532.50,237.92 L532.67,237.88 L532.83,237.83 L533.00,237.78 L533.17,237.72 L533.33,237.65 L533.50,237.59 L533.67,237.51 L533.83,237.43 L534.00,237.33 L534.17,237.23 L534.33,237.12 L534.50,237.00 L534.67,236.88 L534.83,236.75 L535.00,236.60 L535.17,236.45 L535.33,236.29 L535.50,236.12 L535.67,235.94 L535.83,235.76 L536.00,235.57 L536.17,235.37 L536.33,235.17 L536.50,234.96 L536.67,234.74 L536.83,234.53 L537.00,234.32 L537.17,234.11 L537.33,233.89 L537.50,233.68 L537.67,233.47 L537.83,233.26 L538.00,233.07 L538.17,232.89 L538.33,232.72 L538.50,232.55 L538.67,232.40 L538.83,232.26 L539.00,232.15 L539.17,232.05 L539.33,231.96 L539.50,231.89 L539.67,231.84 L539.83,231.81 L540.00,231.80 L540.17,231.81 L540.33,231.84 L540.50,231.89 L540.67,231.96 L540.83,232.05 L541.00,232.15 L541.17,232.26 L541.33,232.40 L541.50,232.55 L541.67,232.72 L541.83,232.90 L542.00,233.08 L542.17,233.26 L542.33,233.47 L542.50,233.68 L542.67,233.89 L542.83,234.11 L543.00,234.32 L543.17,234.53 L543.33,234.74 L543.50,234.96 L543.67,235.17 L543.83,235.37 L544.00,235.57 L544.17,235.76 L544.33,235.94 L544.50,236.12 L544.67,236.29 L544.83,236.45 L545.00,236.60 L545.17,236.75 L545.33,236.88 L545.50,237.01 L545.67,237.12 L545.83,237.23 L546.00,237.33 L546.17,237.43 L546.33,237.51 L546.50,237.59 L546.67,237.66 L546.83,237.72 L547.00,237.78 L547.17,237.83 L547.33,237.88 L547.50,237.92 L547.67,237.95 L547.83,237.99 L548.00,238.02 L548.17,238.04 L548.33,238.06 L548.50,238.08 L548.67,238.10 L548.83,238.11 L549.00,238.12 L549.17,238.13 L549.33,238.14 L549.50,238.15 L549.67,238.15 L549.83,238.15 L550.00,238.16 L550.17,238.16 L550.33,238.15 L550.50,238.15 L550.67,238.15 L550.83,238.14 L551.00,238.13 L551.17,238.13 L551.33,238.11 L551.50,238.10 L551.67,238.09 L551.83,238.07 L552.00,238.05 L552.17,238.03 L552.33,238.01 L552.50,237.98 L552.67,237.95 L552.83,237.92 L553.00,237.89 L553.17,237.85 L553.33,237.81 L553.50,237.76 L553.67,237.72 L553.83,237.67 L554.00,237.62 L554.17,237.56 L554.33,237.51 L554.50,237.45 L554.67,237.39 L554.83,237.33 L555.00,237.27 L555.17,237.21 L555.33,237.14 L555.50,237.08 L555.67,237.02 L555.83,236.96 L556.00,236.91 L556.17,236.86 L556.33,236.81 L556.50,236.76 L556.67,236.72 L556.83,236.69 L557.00,236.66 L557.17,236.63 L557.33,236.62 L557.50,236.61 L557.67,236.60 L557.83,236.60 L558.00,236.61 L558.17,236.63 L558.33,236.65 L558.50,236.68 L558.67,236.71 L558.83,236.75 L559.00,236.79 L559.17,236.83 L559.33,236.89 L559.50,236.94 L559.67,237.00 L559.83,237.06 L560.00,237.12 L560.17,237.18 L560.33,237.24 L560.50,237.30 L560.67,237.37 L560.83,237.43 L561.00,237.48 L561.17,237.54 L561.33,237.60 L561.50,237.65 L561.67,237.70 L561.83,237.75 L562.00,237.79 L562.17,237.83 L562.33,237.87 L562.50,237.91 L562.67,237.94 L562.83,237.97 L563.00,238.00 L563.17,238.02 L563.33,238.04 L563.50,238.06 L563.67,238.08 L563.83,238.09 L564.00,238.10 L564.17,238.11 L564.33,238.12 L564.50,238.12 L564.67,238.13 L564.83,238.13 L565.00,238.12 L565.17,238.12 L565.33,238.12 L565.50,238.11 L565.67,238.10 L565.83,238.08 L566.00,238.07 L566.17,238.05 L566.33,238.03 L566.50,238.01 L566.67,237.98 L566.83,237.95 L567.00,237.92 L567.17,237.89 L567.33,237.86 L567.50,237.82 L567.67,237.78 L567.83,237.74 L568.00,237.70 L568.17,237.66 L568.33,237.62 L568.50,237.58 L568.67,237.54 L568.83,237.50 L569.00,237.46 L569.17,237.43 L569.33,237.40 L569.50,237.37 L569.67,237.35 L569.83,237.33 L570.00,237.31 L570.17,237.31 L570.33,237.30 L570.50,237.30 L570.67,237.31 L570.83,237.32 L571.00,237.33 L571.17,237.35 L571.33,237.38 L571.50,237.41 L571.67,237.44 L571.83,237.47 L572.00,237.51 L572.17,237.55 L572.33,237.59 L572.50,237.63 L572.67,237.67 L572.83,237.71 L573.00,237.75 L573.17,237.79 L573.33,237.83 L573.50,237.86 L573.67,237.90 L573.83,237.93 L574.00,237.96 L574.18,237.99 L574.37,238.02 L574.56,238.04 L574.74,238.07 L574.89,238.09 L575.00,238.10" stroke="#808000"/>
</g>
<g fill="none">
<path d="M34.95,253.5 L34.95,7.95 L329.95,7.95 L329.95,253.5" stroke="#777" stroke-width="1.5"/>
<line x1="31" y1="253.4" x2="330.8" y2="253.4" stroke="#333" stroke-width="1.4"/>
<line x1="34.95" y1="253" x2="34.95" y2="256" stroke="#777" stroke-width="1.5"/>
<path d="M377.95,253.3 L377.95,7.95 L673.4,7.95 L673.4,253.3" stroke="#777" stroke-width="1.5"/>
<line x1="377" y1="253.3" x2="674" y2="253.3" stroke="#333" stroke-width="1.4"/>
</g>
<line x1="35.44" y1="253.5" x2="35.44" y2="256.00" stroke="#333" stroke-width="1"/>
<line x1="59.97" y1="253.5" x2="59.97" y2="256.00" stroke="#333" stroke-width="1"/>
<line x1="84.50" y1="253.5" x2="84.50" y2="257.50" stroke="#333" stroke-width="1"/>
<line x1="109.03" y1="253.5" x2="109.03" y2="256.00" stroke="#333" stroke-width="1"/>
<line x1="133.56" y1="253.5" x2="133.56" y2="256.00" stroke="#333" stroke-width="1"/>
<line x1="158.09" y1="253.5" x2="158.09" y2="256.00" stroke="#333" stroke-width="1"/>
<line x1="182.62" y1="253.5" x2="182.62" y2="256.00" stroke="#333" stroke-width="1"/>
<line x1="207.15" y1="253.5" x2="207.15" y2="257.50" stroke="#333" stroke-width="1"/>
<line x1="231.68" y1="253.5" x2="231.68" y2="256.00" stroke="#333" stroke-width="1"/>
<line x1="256.21" y1="253.5" x2="256.21" y2="256.00" stroke="#333" stroke-width="1"/>
<line x1="280.74" y1="253.5" x2="280.74" y2="256.00" stroke="#333" stroke-width="1"/>
<line x1="305.27" y1="253.5" x2="305.27" y2="256.00" stroke="#333" stroke-width="1"/>
<line x1="329.80" y1="253.5" x2="329.80" y2="257.50" stroke="#333" stroke-width="1"/>
<line x1="31" y1="42.9" x2="35" y2="42.9" stroke="#555" stroke-width="1"/>
<line x1="31" y1="113.4" x2="35" y2="113.4" stroke="#555" stroke-width="1"/>
<line x1="31" y1="183.4" x2="35" y2="183.4" stroke="#555" stroke-width="1"/>
<line x1="32.5" y1="78.2" x2="35" y2="78.2" stroke="#555" stroke-width="1"/>
<line x1="32.5" y1="148.4" x2="35" y2="148.4" stroke="#555" stroke-width="1"/>
<line x1="32.5" y1="218.5" x2="35" y2="218.5" stroke="#555" stroke-width="1"/>
<line x1="378.00" y1="253.3" x2="378.00" y2="255.80" stroke="#333" stroke-width="1"/>
<line x1="427.17" y1="253.3" x2="427.17" y2="257.30" stroke="#333" stroke-width="1"/>
<line x1="476.33" y1="253.3" x2="476.33" y2="255.80" stroke="#333" stroke-width="1"/>
<line x1="525.50" y1="253.3" x2="525.50" y2="257.30" stroke="#333" stroke-width="1"/>
<line x1="574.67" y1="253.3" x2="574.67" y2="255.80" stroke="#333" stroke-width="1"/>
<line x1="623.83" y1="253.3" x2="623.83" y2="257.30" stroke="#333" stroke-width="1"/>
<line x1="673.00" y1="253.3" x2="673.00" y2="255.80" stroke="#333" stroke-width="1"/>
<line x1="375" y1="23.3" x2="378" y2="23.3" stroke="#555" stroke-width="1"/>
<line x1="375" y1="53.8" x2="378" y2="53.8" stroke="#555" stroke-width="1"/>
<line x1="375" y1="115.2" x2="378" y2="115.2" stroke="#555" stroke-width="1"/>
<line x1="375" y1="146" x2="378" y2="146" stroke="#555" stroke-width="1"/>
<line x1="375" y1="176.7" x2="378" y2="176.7" stroke="#555" stroke-width="1"/>
<line x1="375" y1="207.4" x2="378" y2="207.4" stroke="#555" stroke-width="1"/>
<line x1="373.5" y1="84.5" x2="378" y2="84.5" stroke="#555" stroke-width="1"/>
<line x1="373.5" y1="238.2" x2="378" y2="238.2" stroke="#555" stroke-width="1"/>
<g fill="#000">
<text transform="translate(84.50,271.00) scale(1.0,1.1)" font-size="12" text-anchor="middle">7100</text>
<text transform="translate(207.15,271.00) scale(1.0,1.1)" font-size="12" text-anchor="middle">7150</text>
<text transform="translate(329.80,271.00) scale(1.0,1.1)" font-size="12" text-anchor="middle">7200</text>
<text transform="translate(111.30,291.90) scale(1.0,1.07)" font-size="19.2">Energy (eV)</text>
<text transform="translate(16.10,169.80) scale(1,1.06) rotate(-90)" font-size="19.5">Arb. unit</text>
<text transform="translate(39.30,32.30) scale(1.0,1.086)" font-size="19.4">(a)</text>
<text transform="translate(99.50,133.90) scale(1.0,1.05)" font-size="10.7">Fe(II)</text>
<text transform="translate(165.60,133.90) scale(1.0,1.05)" font-size="10.7">Fe(III)</text>
<line x1="131" y1="130.3" x2="161.8" y2="130.3" stroke="#000" stroke-width="1"/>
<path d="M126.6,130.3 L133.8,127.8 L133.8,132.8 Z" fill="#000"/>
<line x1="210" y1="172.2" x2="236.3" y2="172.2" stroke="#000000" stroke-width="1.05"/>
<text transform="translate(240.00,177.20) scale(1.0,1.1)" font-size="11.8">0%</text>
<text transform="translate(273.90,177.20) scale(1.0,1.1)" font-size="11.8">SOC</text>
<line x1="210" y1="188.1" x2="236.3" y2="188.1" stroke="#ff0000" stroke-width="1.05"/>
<text transform="translate(240.00,193.10) scale(1.0,1.1)" font-size="11.8">25%</text>
<text transform="translate(273.90,193.10) scale(1.0,1.1)" font-size="11.8">SOC</text>
<line x1="210" y1="204.0" x2="236.3" y2="204.0" stroke="#800080" stroke-width="1.05"/>
<text transform="translate(240.00,209.00) scale(1.0,1.1)" font-size="11.8">50%</text>
<text transform="translate(273.90,209.00) scale(1.0,1.1)" font-size="11.8">SOC</text>
<line x1="210" y1="219.9" x2="236.3" y2="219.9" stroke="#0000ff" stroke-width="1.05"/>
<text transform="translate(240.00,224.90) scale(1.0,1.1)" font-size="11.8">75%</text>
<text transform="translate(273.90,224.90) scale(1.0,1.1)" font-size="11.8">SOC</text>
<line x1="210" y1="235.8" x2="236.3" y2="235.8" stroke="#808000" stroke-width="1.05"/>
<text transform="translate(240.00,240.80) scale(1.0,1.1)" font-size="11.8">100%</text>
<text transform="translate(273.90,240.80) scale(1.0,1.1)" font-size="11.8">SOC</text>
<text transform="translate(427.17,271.00) scale(1.0,1.1)" font-size="12" text-anchor="middle">1000</text>
<text transform="translate(525.50,271.00) scale(1.0,1.1)" font-size="12" text-anchor="middle">1200</text>
<text transform="translate(623.83,271.00) scale(1.0,1.1)" font-size="12" text-anchor="middle">1400</text>
<text transform="translate(432.90,295.60) scale(1.0,1.07)" font-size="19.2">Wavenumber (cm</text>
<text transform="translate(582.90,286.30) scale(1.0,1.04)" font-size="13.5">-1</text>
<text transform="translate(595.30,295.60) scale(1.0,1.07)" font-size="19.2">)</text>
<text transform="translate(361.40,169.70) scale(1,1.06) rotate(-90)" font-size="19.5">Arb. unit</text>
<text transform="translate(643.30,237.80) scale(1.0,1.055)" font-size="19.4">(b)</text>
<line x1="390" y1="20.3" x2="413.3" y2="20.3" stroke="#000000" stroke-width="1.05"/>
<text transform="translate(416.70,24.60) scale(1.0,1.1)" font-size="10.6">0%</text>
<text transform="translate(446.90,24.60) scale(1.0,1.1)" font-size="10.6">SOC</text>
<line x1="390" y1="34.5" x2="413.3" y2="34.5" stroke="#ff0000" stroke-width="1.05"/>
<text transform="translate(416.70,38.80) scale(1.0,1.1)" font-size="10.6">25%</text>
<text transform="translate(446.90,38.80) scale(1.0,1.1)" font-size="10.6">SOC</text>
<line x1="390" y1="48.7" x2="413.3" y2="48.7" stroke="#800000" stroke-width="1.05"/>
<text transform="translate(416.70,53.00) scale(1.0,1.1)" font-size="10.6">50%</text>
<text transform="translate(446.90,53.00) scale(1.0,1.1)" font-size="10.6">SOC</text>
<line x1="390" y1="62.9" x2="413.3" y2="62.9" stroke="#0000ff" stroke-width="1.05"/>
<text transform="translate(416.70,67.20) scale(1.0,1.1)" font-size="10.6">75%</text>
<text transform="translate(446.90,67.20) scale(1.0,1.1)" font-size="10.6">SOC</text>
<line x1="390" y1="77.1" x2="413.3" y2="77.1" stroke="#808000" stroke-width="1.05"/>
<text transform="translate(416.70,81.40) scale(1.0,1.1)" font-size="10.6">100%</text>
<text transform="translate(446.90,81.40) scale(1.0,1.1)" font-size="10.6">SOC</text>
<text transform="translate(391.30,130.80) scale(1.0,1.1)" font-size="10.5">1004 cm<tspan font-size="7" dy="-4.5">-1</tspan></text>
<line x1="429.4" y1="139.6" x2="429.4" y2="158" stroke="#000" stroke-width="1"/>
<path d="M429.4,163.8 L427.3,156.5 L431.5,156.5 Z" fill="#000"/>
<text transform="translate(402.90,247.40) scale(1.0,1.1)" font-size="10.5">982 cm<tspan font-size="7" dy="-4.5">-1</tspan></text>
<line x1="419.3" y1="213" x2="419.3" y2="233.8" stroke="#000" stroke-width="1"/>
<path d="M419.3,207.4 L417.2,214.8 L421.4,214.8 Z" fill="#000"/>
</g>
<g>
<line x1="509" y1="8.7" x2="509" y2="145.2" stroke="#929292" stroke-width="1.0"/>
<rect x="507.6" y="7.3" width="2" height="1.6" fill="#333"/>
<line x1="508.8" y1="145.2" x2="673.3" y2="145.2" stroke="#444" stroke-width="1.1"/>
<line x1="509.2" y1="145.2" x2="509.2" y2="147.0" stroke="#444" stroke-width="0.8"/>
<line x1="522.9" y1="145.2" x2="522.9" y2="148.2" stroke="#444" stroke-width="0.8"/>
<line x1="536.6" y1="145.2" x2="536.6" y2="147.0" stroke="#444" stroke-width="0.8"/>
<line x1="550.3" y1="145.2" x2="550.3" y2="147.0" stroke="#444" stroke-width="0.8"/>
<line x1="564.0" y1="145.2" x2="564.0" y2="147.0" stroke="#444" stroke-width="0.8"/>
<line x1="577.7" y1="145.2" x2="577.7" y2="147.0" stroke="#444" stroke-width="0.8"/>
<line x1="591.4" y1="145.2" x2="591.4" y2="148.2" stroke="#444" stroke-width="0.8"/>
<line x1="605.1" y1="145.2" x2="605.1" y2="147.0" stroke="#444" stroke-width="0.8"/>
<line x1="618.8" y1="145.2" x2="618.8" y2="147.0" stroke="#444" stroke-width="0.8"/>
<line x1="632.5" y1="145.2" x2="632.5" y2="147.0" stroke="#444" stroke-width="0.8"/>
<line x1="646.2" y1="145.2" x2="646.2" y2="147.0" stroke="#444" stroke-width="0.8"/>
<line x1="659.9" y1="145.2" x2="659.9" y2="148.2" stroke="#444" stroke-width="0.8"/>
<line x1="673.6" y1="145.2" x2="673.6" y2="147.0" stroke="#444" stroke-width="0.8"/>
<line x1="507" y1="39.2" x2="508.8" y2="39.2" stroke="#444" stroke-width="0.8"/>
<line x1="507" y1="68.6" x2="508.8" y2="68.6" stroke="#444" stroke-width="0.8"/>
<line x1="507" y1="97.9" x2="508.8" y2="97.9" stroke="#444" stroke-width="0.8"/>
<line x1="507" y1="127.3" x2="508.8" y2="127.3" stroke="#444" stroke-width="0.8"/>
<text transform="translate(522.90,153.60) scale(1.0,1.1)" font-size="5.6" text-anchor="middle">0</text>
<text transform="translate(591.40,153.60) scale(1.0,1.1)" font-size="5.6" text-anchor="middle">50</text>
<text transform="translate(659.90,153.60) scale(1.0,1.1)" font-size="5.6" text-anchor="middle">100</text>
<text transform="translate(572.80,166.50) scale(1.0,1.1)" font-size="9.3">SOC (%)</text>
<text transform="translate(498.70,94.20) scale(1,1.06) rotate(-90)" font-size="9.7">Arb. unit</text>
<line x1="522.9" y1="19.3" x2="659.9" y2="135.6" stroke="#ff0000" stroke-width="0.9"/>
<line x1="522.9" y1="94.5" x2="659.9" y2="37.6" stroke="#000" stroke-width="0.8"/>
<rect x="521.1" y="16.9" width="3.6" height="3.6" fill="#fff" stroke="#ff5050" stroke-width="0.65"/>
<rect x="555.4" y="49.6" width="3.6" height="3.6" fill="#fff" stroke="#ff5050" stroke-width="0.65"/>
<rect x="589.6" y="69.7" width="3.6" height="3.6" fill="#fff" stroke="#ff5050" stroke-width="0.65"/>
<rect x="623.9" y="108.7" width="3.6" height="3.6" fill="#fff" stroke="#ff5050" stroke-width="0.65"/>
<rect x="658.1" y="133.2" width="3.6" height="3.6" fill="#fff" stroke="#ff5050" stroke-width="0.65"/>
<rect x="521.1" y="93.7" width="3.6" height="3.6" fill="#fff" stroke="#777" stroke-width="0.65"/>
<rect x="555.4" y="75.6" width="3.6" height="3.6" fill="#fff" stroke="#777" stroke-width="0.65"/>
<rect x="589.6" y="59.7" width="3.6" height="3.6" fill="#fff" stroke="#777" stroke-width="0.65"/>
<rect x="623.9" y="48.4" width="3.6" height="3.6" fill="#fff" stroke="#777" stroke-width="0.65"/>
<rect x="658.1" y="36.7" width="3.6" height="3.6" fill="#fff" stroke="#777" stroke-width="0.65"/>
<text transform="translate(533.90,25.90) scale(1.0,1.1)" font-size="8.0" fill="#ff0000">1004 cm<tspan font-size="5.5" dy="-3.5">-1</tspan></text>
<text transform="translate(517.40,82.20) scale(1.0,1.1)" font-size="8.3">982 cm<tspan font-size="5.5" dy="-3.5">-1</tspan></text>
<text transform="translate(626.10,32.30) scale(1.0,1.1)" font-size="8">R=0.995</text>
<text transform="translate(635.30,112.60) scale(1.0,1.1)" font-size="8" fill="#ff0000">R=0.997</text>
</g>
</svg></body></html>
